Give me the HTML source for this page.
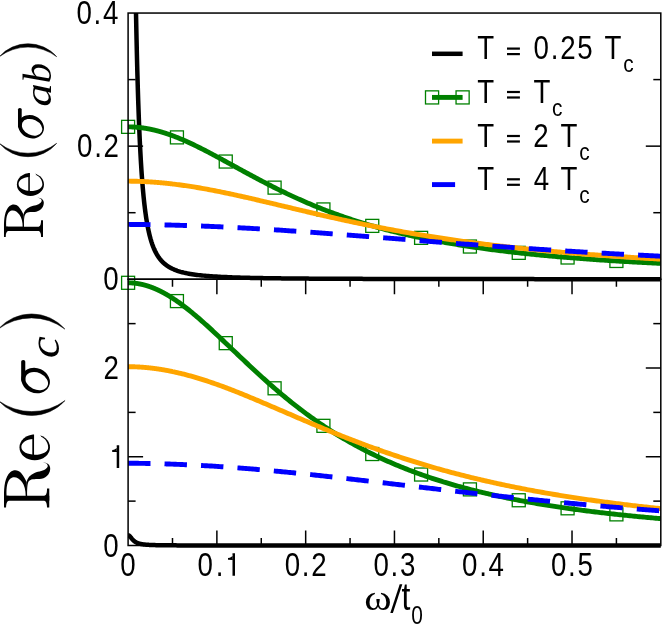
<!DOCTYPE html>
<html><head><meta charset="utf-8"><title>chart</title>
<style>html,body{margin:0;padding:0;background:#fff;overflow:hidden}svg{display:block;position:absolute;left:0;top:0;will-change:transform}</style></head>
<body>
<svg width="664" height="628" viewBox="0 0 664 628">
<defs><clipPath id="ct"><rect x="127.10" y="13.05" width="534.70" height="269.20"/></clipPath>
<clipPath id="cb"><rect x="127.10" y="276.25" width="534.70" height="272.25"/></clipPath></defs>
<rect width="664" height="628" fill="#fff"/>
<line x1="128.10" y1="212.70" x2="135.60" y2="212.70" stroke="#000" stroke-width="1.5"/>
<line x1="660.80" y1="212.70" x2="653.30" y2="212.70" stroke="#000" stroke-width="1.5"/>
<line x1="128.10" y1="146.15" x2="143.10" y2="146.15" stroke="#000" stroke-width="1.5"/>
<line x1="660.80" y1="146.15" x2="645.80" y2="146.15" stroke="#000" stroke-width="1.5"/>
<line x1="128.10" y1="79.60" x2="135.60" y2="79.60" stroke="#000" stroke-width="1.5"/>
<line x1="660.80" y1="79.60" x2="653.30" y2="79.60" stroke="#000" stroke-width="1.5"/>
<line x1="128.10" y1="501.12" x2="135.60" y2="501.12" stroke="#000" stroke-width="1.5"/>
<line x1="660.80" y1="501.12" x2="653.30" y2="501.12" stroke="#000" stroke-width="1.5"/>
<line x1="128.10" y1="456.75" x2="143.10" y2="456.75" stroke="#000" stroke-width="1.5"/>
<line x1="660.80" y1="456.75" x2="645.80" y2="456.75" stroke="#000" stroke-width="1.5"/>
<line x1="128.10" y1="412.38" x2="135.60" y2="412.38" stroke="#000" stroke-width="1.5"/>
<line x1="660.80" y1="412.38" x2="653.30" y2="412.38" stroke="#000" stroke-width="1.5"/>
<line x1="128.10" y1="368.00" x2="143.10" y2="368.00" stroke="#000" stroke-width="1.5"/>
<line x1="660.80" y1="368.00" x2="645.80" y2="368.00" stroke="#000" stroke-width="1.5"/>
<line x1="128.10" y1="323.62" x2="135.60" y2="323.62" stroke="#000" stroke-width="1.5"/>
<line x1="660.80" y1="323.62" x2="653.30" y2="323.62" stroke="#000" stroke-width="1.5"/>
<line x1="172.49" y1="545.50" x2="172.49" y2="538.00" stroke="#000" stroke-width="1.5"/>
<line x1="172.49" y1="279.25" x2="172.49" y2="286.75" stroke="#000" stroke-width="1.5"/>
<line x1="216.88" y1="545.50" x2="216.88" y2="530.50" stroke="#000" stroke-width="1.5"/>
<line x1="216.88" y1="279.25" x2="216.88" y2="294.25" stroke="#000" stroke-width="1.5"/>
<line x1="261.27" y1="545.50" x2="261.27" y2="538.00" stroke="#000" stroke-width="1.5"/>
<line x1="261.27" y1="279.25" x2="261.27" y2="286.75" stroke="#000" stroke-width="1.5"/>
<line x1="305.67" y1="545.50" x2="305.67" y2="530.50" stroke="#000" stroke-width="1.5"/>
<line x1="305.67" y1="279.25" x2="305.67" y2="294.25" stroke="#000" stroke-width="1.5"/>
<line x1="350.06" y1="545.50" x2="350.06" y2="538.00" stroke="#000" stroke-width="1.5"/>
<line x1="350.06" y1="279.25" x2="350.06" y2="286.75" stroke="#000" stroke-width="1.5"/>
<line x1="394.45" y1="545.50" x2="394.45" y2="530.50" stroke="#000" stroke-width="1.5"/>
<line x1="394.45" y1="279.25" x2="394.45" y2="294.25" stroke="#000" stroke-width="1.5"/>
<line x1="438.84" y1="545.50" x2="438.84" y2="538.00" stroke="#000" stroke-width="1.5"/>
<line x1="438.84" y1="279.25" x2="438.84" y2="286.75" stroke="#000" stroke-width="1.5"/>
<line x1="483.23" y1="545.50" x2="483.23" y2="530.50" stroke="#000" stroke-width="1.5"/>
<line x1="483.23" y1="279.25" x2="483.23" y2="294.25" stroke="#000" stroke-width="1.5"/>
<line x1="527.62" y1="545.50" x2="527.62" y2="538.00" stroke="#000" stroke-width="1.5"/>
<line x1="527.62" y1="279.25" x2="527.62" y2="286.75" stroke="#000" stroke-width="1.5"/>
<line x1="572.02" y1="545.50" x2="572.02" y2="530.50" stroke="#000" stroke-width="1.5"/>
<line x1="572.02" y1="279.25" x2="572.02" y2="294.25" stroke="#000" stroke-width="1.5"/>
<line x1="616.41" y1="545.50" x2="616.41" y2="538.00" stroke="#000" stroke-width="1.5"/>
<line x1="616.41" y1="279.25" x2="616.41" y2="286.75" stroke="#000" stroke-width="1.5"/>
<path d="M128.10,-120.05 L128.21,-120.05 L128.32,-120.05 L128.43,-120.05 L128.55,-120.05 L128.66,-120.05 L128.77,-120.05 L128.88,-120.05 L128.99,-120.05 L129.10,-120.05 L129.21,-120.05 L129.32,-120.05 L129.44,-120.05 L129.55,-120.05 L129.66,-120.05 L129.77,-120.05 L129.88,-120.05 L129.99,-120.05 L130.10,-120.05 L130.21,-120.05 L130.33,-120.05 L130.44,-120.05 L130.55,-120.05 L130.66,-120.05 L130.77,-120.05 L130.88,-120.05 L130.99,-120.05 L131.10,-120.05 L131.22,-120.05 L131.33,-120.05 L131.44,-120.05 L131.55,-120.05 L131.66,-120.05 L131.77,-120.05 L131.88,-120.05 L131.99,-120.05 L132.11,-120.05 L132.22,-120.05 L132.33,-120.05 L132.44,-120.05 L132.55,-120.05 L132.66,-120.05 L132.77,-120.05 L132.88,-120.05 L133.00,-120.05 L133.11,-120.05 L133.22,-120.05 L133.33,-120.05 L133.44,-120.05 L133.55,-120.05 L133.66,-120.05 L133.77,-120.05 L133.89,-120.05 L134.00,-120.05 L134.11,-114.57 L134.22,-105.18 L134.33,-96.06 L134.44,-87.21 L134.55,-78.61 L134.66,-70.27 L134.78,-62.17 L134.89,-54.31 L135.00,-46.68 L135.11,-39.27 L135.22,-32.07 L135.33,-25.08 L135.44,-18.30 L135.55,-11.71 L135.67,-5.32 L135.78,0.90 L135.89,6.93 L136.00,12.79 L136.11,18.49 L136.22,24.03 L136.33,29.40 L136.44,34.63 L136.56,39.71 L136.67,44.65 L136.78,49.46 L136.89,54.13 L137.00,58.67 L137.11,63.09 L137.22,67.39 L137.33,71.57 L137.45,75.64 L137.56,79.60 L137.67,83.46 L137.78,87.21 L137.89,90.86 L138.00,94.42 L138.11,97.89 L138.22,101.27 L138.34,104.56 L138.45,107.76 L138.56,110.89 L138.67,113.94 L138.78,116.90 L138.89,119.80 L139.00,122.62 L139.11,125.38 L139.23,128.06 L139.34,130.68 L139.45,133.24 L139.56,135.74 L139.67,138.17 L139.78,140.55 L139.89,142.87 L140.00,145.14 L140.12,147.35 L140.23,149.51 L140.34,151.62 L140.45,153.69 L140.56,155.70 L140.67,157.67 L140.78,159.60 L140.89,161.48 L141.01,163.32 L141.12,165.12 L141.23,166.88 L141.34,168.61 L141.45,170.29 L141.56,171.94 L141.67,173.55 L141.78,175.13 L141.90,176.67 L142.01,178.18 L142.12,179.66 L142.23,181.11 L142.34,182.53 L142.45,183.92 L142.56,185.28 L142.67,186.61 L142.79,187.92 L142.90,189.20 L143.01,190.45 L143.12,191.68 L143.23,192.88 L143.34,194.06 L143.45,195.22 L143.56,196.36 L143.68,197.47 L143.79,198.56 L143.90,199.63 L144.01,200.68 L144.12,201.71 L144.23,202.72 L144.34,203.71 L144.45,204.68 L144.57,205.64 L144.68,206.57 L144.79,207.49 L144.90,208.40 L145.01,209.28 L145.12,210.15 L145.23,211.01 L145.34,211.85 L145.46,212.67 L145.57,213.48 L145.68,214.27 L145.79,215.06 L145.90,215.82 L146.01,216.58 L146.12,217.32 L146.23,218.05 L146.35,218.76 L146.46,219.47 L146.57,220.16 L146.68,220.84 L146.79,221.51 L146.90,222.17 L147.01,222.81 L147.12,223.45 L147.24,224.08 L147.35,224.69 L147.46,225.30 L147.57,225.89 L147.68,226.48 L147.79,227.06 L147.90,227.62 L148.02,228.18 L148.13,228.73 L148.24,229.27 L148.35,229.80 L148.46,230.33 L148.57,230.85 L148.68,231.35 L148.79,231.85 L148.91,232.35 L149.02,232.83 L149.13,233.31 L149.24,233.78 L149.35,234.24 L149.46,234.70 L149.57,235.15 L149.68,235.59 L149.80,236.03 L149.91,236.46 L150.02,236.88 L150.13,237.30 L150.24,237.71 L150.35,238.12 L150.46,238.52 L150.57,238.91 L150.69,239.30 L150.80,239.68 L150.91,240.06 L151.02,240.43 L151.13,240.80 L151.24,241.16 L151.35,241.52 L151.46,241.87 L151.58,242.22 L151.69,242.56 L151.80,242.90 L151.91,243.23 L152.02,243.56 L152.13,243.89 L152.24,244.21 L152.35,244.52 L152.47,244.83 L152.58,245.14 L152.69,245.45 L152.80,245.75 L152.91,246.04 L153.02,246.33 L153.13,246.62 L153.24,246.90 L153.36,247.18 L153.47,247.46 L153.58,247.74 L153.69,248.01 L153.80,248.27 L153.91,248.53 L154.02,248.79 L154.13,249.05 L154.25,249.30 L154.36,249.56 L154.47,249.80 L154.58,250.05 L154.69,250.29 L154.80,250.53 L154.91,250.76 L155.02,250.99 L155.14,251.22 L155.25,251.45 L155.36,251.67 L155.47,251.90 L155.58,252.11 L155.69,252.33 L155.80,252.54 L155.91,252.76 L156.03,252.96 L156.14,253.17 L156.25,253.37 L156.36,253.58 L156.47,253.78 L156.58,253.97 L156.69,254.17 L156.80,254.36 L156.92,254.55 L157.03,254.74 L157.14,254.92 L157.25,255.11 L157.36,255.29 L157.47,255.47 L157.58,255.65 L157.69,255.82 L157.81,256.00 L157.92,256.17 L158.03,256.34 L158.14,256.51 L158.25,256.67 L158.36,256.84 L158.47,257.00 L158.58,257.16 L158.70,257.32 L158.81,257.48 L158.92,257.63 L159.03,257.79 L159.14,257.94 L159.25,258.09 L159.36,258.24 L159.47,258.39 L159.59,258.54 L159.70,258.68 L159.81,258.82 L159.92,258.97 L160.03,259.11 L160.14,259.25 L160.25,259.38 L160.36,259.52 L160.48,259.65 L160.59,259.79 L160.70,259.92 L160.81,260.05 L160.92,260.18 L161.03,260.31 L161.14,260.43 L161.25,260.56 L161.37,260.68 L161.48,260.81 L161.59,260.93 L161.70,261.05 L161.81,261.17 L161.92,261.29 L162.03,261.40 L162.14,261.52 L162.26,261.63 L162.37,261.75 L162.48,261.86 L162.59,261.97 L162.70,262.08 L162.81,262.19 L162.92,262.30 L163.03,262.41 L163.15,262.51 L163.26,262.62 L163.37,262.72 L163.48,262.83 L163.59,262.93 L163.70,263.03 L163.81,263.13 L163.92,263.23 L164.04,263.33 L164.15,263.43 L164.26,263.53 L164.37,263.62 L164.48,263.72 L164.59,263.81 L164.70,263.90 L164.81,264.00 L164.93,264.09 L165.04,264.18 L165.15,264.27 L165.26,264.36 L165.37,264.45 L165.48,264.54 L165.59,264.62 L165.70,264.71 L165.82,264.79 L165.93,264.88 L166.04,264.96 L166.15,265.05 L166.26,265.13 L166.37,265.21 L166.48,265.29 L166.60,265.37 L166.71,265.45 L166.82,265.53 L166.93,265.61 L167.04,265.69 L167.15,265.76 L167.26,265.84 L167.37,265.92 L167.49,265.99 L167.60,266.06 L167.71,266.14 L167.82,266.21 L167.93,266.28 L168.04,266.36 L168.15,266.43 L168.26,266.50 L168.38,266.57 L168.49,266.64 L168.60,266.71 L168.71,266.78 L168.82,266.84 L168.93,266.91 L169.04,266.98 L169.15,267.04 L169.27,267.11 L169.38,267.18 L169.49,267.24 L169.60,267.30 L169.71,267.37 L169.82,267.43 L169.93,267.49 L170.04,267.56 L170.16,267.62 L170.27,267.68 L170.38,267.74 L170.49,267.80 L170.60,267.86 L170.71,267.92 L170.82,267.98 L170.93,268.04 L171.05,268.09 L171.16,268.15 L171.27,268.21 L171.38,268.27 L171.49,268.32 L171.60,268.38 L171.71,268.43 L171.82,268.49 L171.94,268.54 L172.05,268.60 L172.16,268.65 L172.27,268.70 L172.38,268.76 L172.49,268.81 L174.12,269.54 L175.76,270.19 L177.39,270.78 L179.02,271.31 L180.66,271.80 L182.29,272.24 L183.92,272.65 L185.56,273.02 L187.19,273.36 L188.82,273.67 L190.46,273.96 L192.09,274.22 L193.72,274.47 L195.36,274.70 L196.99,274.91 L198.62,275.11 L200.26,275.30 L201.89,275.47 L203.52,275.63 L205.15,275.78 L206.79,275.93 L208.42,276.06 L210.05,276.19 L211.69,276.31 L213.32,276.42 L214.95,276.52 L216.59,276.62 L218.22,276.72 L219.85,276.81 L221.49,276.89 L223.12,276.97 L224.75,277.05 L226.39,277.12 L228.02,277.19 L229.65,277.26 L231.28,277.32 L232.92,277.38 L234.55,277.43 L236.18,277.49 L237.82,277.54 L239.45,277.59 L241.08,277.64 L242.72,277.68 L244.35,277.73 L245.98,277.77 L247.62,277.81 L249.25,277.85 L250.88,277.89 L252.52,277.92 L254.15,277.96 L255.78,277.99 L257.41,278.02 L259.05,278.05 L260.68,278.08 L262.31,278.11 L263.95,278.14 L265.58,278.16 L267.21,278.19 L268.85,278.21 L270.48,278.24 L272.11,278.26 L273.75,278.28 L275.38,278.30 L277.01,278.32 L278.65,278.34 L280.28,278.36 L281.91,278.38 L283.55,278.40 L285.18,278.42 L286.81,278.43 L288.44,278.45 L290.08,278.47 L291.71,278.48 L293.34,278.50 L294.98,278.51 L296.61,278.53 L298.24,278.54 L299.88,278.55 L301.51,278.57 L303.14,278.58 L304.78,278.59 L306.41,278.60 L308.04,278.61 L309.68,278.63 L311.31,278.64 L312.94,278.65 L314.57,278.66 L316.21,278.67 L317.84,278.68 L319.47,278.69 L321.11,278.70 L322.74,278.71 L324.37,278.72 L326.01,278.72 L327.64,278.73 L329.27,278.74 L330.91,278.75 L332.54,278.76 L334.17,278.77 L335.81,278.77 L337.44,278.78 L339.07,278.79 L340.70,278.80 L342.34,278.80 L343.97,278.81 L345.60,278.82 L347.24,278.82 L348.87,278.83 L350.50,278.83 L352.14,278.84 L353.77,278.85 L355.40,278.85 L357.04,278.86 L358.67,278.86 L360.30,278.87 L361.94,278.87 L363.57,278.88 L365.20,278.88 L366.84,278.89 L368.47,278.89 L370.10,278.90 L371.73,278.90 L373.37,278.91 L375.00,278.91 L376.63,278.92 L378.27,278.92 L379.90,278.93 L381.53,278.93 L383.17,278.93 L384.80,278.94 L386.43,278.94 L388.07,278.95 L389.70,278.95 L391.33,278.95 L392.97,278.96 L394.60,278.96 L396.23,278.96 L397.86,278.97 L399.50,278.97 L401.13,278.97 L402.76,278.98 L404.40,278.98 L406.03,278.98 L407.66,278.99 L409.30,278.99 L410.93,278.99 L412.56,279.00 L414.20,279.00 L415.83,279.00 L417.46,279.00 L419.10,279.01 L420.73,279.01 L422.36,279.01 L423.99,279.02 L425.63,279.02 L427.26,279.02 L428.89,279.02 L430.53,279.03 L432.16,279.03 L433.79,279.03 L435.43,279.03 L437.06,279.03 L438.69,279.04 L440.33,279.04 L441.96,279.04 L443.59,279.04 L445.23,279.05 L446.86,279.05 L448.49,279.05 L450.13,279.05 L451.76,279.05 L453.39,279.06 L455.02,279.06 L456.66,279.06 L458.29,279.06 L459.92,279.06 L461.56,279.07 L463.19,279.07 L464.82,279.07 L466.46,279.07 L468.09,279.07 L469.72,279.07 L471.36,279.08 L472.99,279.08 L474.62,279.08 L476.26,279.08 L477.89,279.08 L479.52,279.08 L481.15,279.09 L482.79,279.09 L484.42,279.09 L486.05,279.09 L487.69,279.09 L489.32,279.09 L490.95,279.09 L492.59,279.10 L494.22,279.10 L495.85,279.10 L497.49,279.10 L499.12,279.10 L500.75,279.10 L502.39,279.10 L504.02,279.10 L505.65,279.11 L507.29,279.11 L508.92,279.11 L510.55,279.11 L512.18,279.11 L513.82,279.11 L515.45,279.11 L517.08,279.11 L518.72,279.12 L520.35,279.12 L521.98,279.12 L523.62,279.12 L525.25,279.12 L526.88,279.12 L528.52,279.12 L530.15,279.12 L531.78,279.12 L533.42,279.12 L535.05,279.13 L536.68,279.13 L538.31,279.13 L539.95,279.13 L541.58,279.13 L543.21,279.13 L544.85,279.13 L546.48,279.13 L548.11,279.13 L549.75,279.13 L551.38,279.14 L553.01,279.14 L554.65,279.14 L556.28,279.14 L557.91,279.14 L559.55,279.14 L561.18,279.14 L562.81,279.14 L564.44,279.14 L566.08,279.14 L567.71,279.14 L569.34,279.14 L570.98,279.15 L572.61,279.15 L574.24,279.15 L575.88,279.15 L577.51,279.15 L579.14,279.15 L580.78,279.15 L582.41,279.15 L584.04,279.15 L585.68,279.15 L587.31,279.15 L588.94,279.15 L590.58,279.15 L592.21,279.15 L593.84,279.16 L595.47,279.16 L597.11,279.16 L598.74,279.16 L600.37,279.16 L602.01,279.16 L603.64,279.16 L605.27,279.16 L606.91,279.16 L608.54,279.16 L610.17,279.16 L611.81,279.16 L613.44,279.16 L615.07,279.16 L616.71,279.16 L618.34,279.16 L619.97,279.17 L621.60,279.17 L623.24,279.17 L624.87,279.17 L626.50,279.17 L628.14,279.17 L629.77,279.17 L631.40,279.17 L633.04,279.17 L634.67,279.17 L636.30,279.17 L637.94,279.17 L639.57,279.17 L641.20,279.17 L642.84,279.17 L644.47,279.17 L646.10,279.17 L647.73,279.17 L649.37,279.17 L651.00,279.17 L652.63,279.18 L654.27,279.18 L655.90,279.18 L657.53,279.18 L659.17,279.18 L660.80,279.18" fill="none" stroke="#000000" stroke-width="4.5" stroke-linejoin="round" clip-path="url(#ct)"/>
<rect x="121.60" y="120.35" width="13.0" height="13.0" fill="none" stroke="#008000" stroke-width="1.3"/>
<rect x="170.43" y="130.89" width="13.0" height="13.0" fill="none" stroke="#008000" stroke-width="1.3"/>
<rect x="219.26" y="155.04" width="13.0" height="13.0" fill="none" stroke="#008000" stroke-width="1.3"/>
<rect x="268.09" y="181.13" width="13.0" height="13.0" fill="none" stroke="#008000" stroke-width="1.3"/>
<rect x="316.92" y="202.93" width="13.0" height="13.0" fill="none" stroke="#008000" stroke-width="1.3"/>
<rect x="365.75" y="219.38" width="13.0" height="13.0" fill="none" stroke="#008000" stroke-width="1.3"/>
<rect x="414.59" y="231.35" width="13.0" height="13.0" fill="none" stroke="#008000" stroke-width="1.3"/>
<rect x="463.42" y="240.03" width="13.0" height="13.0" fill="none" stroke="#008000" stroke-width="1.3"/>
<rect x="512.25" y="246.35" width="13.0" height="13.0" fill="none" stroke="#008000" stroke-width="1.3"/>
<rect x="561.08" y="251.00" width="13.0" height="13.0" fill="none" stroke="#008000" stroke-width="1.3"/>
<rect x="609.91" y="254.47" width="13.0" height="13.0" fill="none" stroke="#008000" stroke-width="1.3"/>
<path d="M128.10,126.85 L128.21,126.85 L128.32,126.85 L128.43,126.85 L128.55,126.85 L128.66,126.85 L128.77,126.86 L128.88,126.86 L128.99,126.86 L129.10,126.86 L129.21,126.86 L129.32,126.86 L129.44,126.87 L129.55,126.87 L129.66,126.87 L129.77,126.87 L129.88,126.87 L129.99,126.88 L130.10,126.88 L130.21,126.88 L130.33,126.89 L130.44,126.89 L130.55,126.89 L130.66,126.89 L130.77,126.90 L130.88,126.90 L130.99,126.90 L131.10,126.91 L131.22,126.91 L131.33,126.92 L131.44,126.92 L131.55,126.92 L131.66,126.93 L131.77,126.93 L131.88,126.94 L131.99,126.94 L132.11,126.95 L132.22,126.95 L132.33,126.96 L132.44,126.96 L132.55,126.97 L132.66,126.97 L132.77,126.98 L132.88,126.98 L133.00,126.99 L133.11,126.99 L133.22,127.00 L133.33,127.00 L133.44,127.01 L133.55,127.02 L133.66,127.02 L133.77,127.03 L133.89,127.04 L134.00,127.04 L134.11,127.05 L134.22,127.06 L134.33,127.06 L134.44,127.07 L134.55,127.08 L134.66,127.08 L134.78,127.09 L134.89,127.10 L135.00,127.11 L135.11,127.11 L135.22,127.12 L135.33,127.13 L135.44,127.14 L135.55,127.15 L135.67,127.15 L135.78,127.16 L135.89,127.17 L136.00,127.18 L136.11,127.19 L136.22,127.20 L136.33,127.21 L136.44,127.22 L136.56,127.23 L136.67,127.23 L136.78,127.24 L136.89,127.25 L137.00,127.26 L137.11,127.27 L137.22,127.28 L137.33,127.29 L137.45,127.30 L137.56,127.31 L137.67,127.32 L137.78,127.33 L137.89,127.34 L138.00,127.35 L138.11,127.37 L138.22,127.38 L138.34,127.39 L138.45,127.40 L138.56,127.41 L138.67,127.42 L138.78,127.43 L138.89,127.44 L139.00,127.46 L139.11,127.47 L139.23,127.48 L139.34,127.49 L139.45,127.50 L139.56,127.52 L139.67,127.53 L139.78,127.54 L139.89,127.55 L140.00,127.57 L140.12,127.58 L140.23,127.59 L140.34,127.60 L140.45,127.62 L140.56,127.63 L140.67,127.64 L140.78,127.66 L140.89,127.67 L141.01,127.69 L141.12,127.70 L141.23,127.71 L141.34,127.73 L141.45,127.74 L141.56,127.76 L141.67,127.77 L141.78,127.78 L141.90,127.80 L142.01,127.81 L142.12,127.83 L142.23,127.84 L142.34,127.86 L142.45,127.87 L142.56,127.89 L142.67,127.90 L142.79,127.92 L142.90,127.93 L143.01,127.95 L143.12,127.97 L143.23,127.98 L143.34,128.00 L143.45,128.01 L143.56,128.03 L143.68,128.05 L143.79,128.06 L143.90,128.08 L144.01,128.10 L144.12,128.11 L144.23,128.13 L144.34,128.15 L144.45,128.16 L144.57,128.18 L144.68,128.20 L144.79,128.22 L144.90,128.23 L145.01,128.25 L145.12,128.27 L145.23,128.29 L145.34,128.30 L145.46,128.32 L145.57,128.34 L145.68,128.36 L145.79,128.38 L145.90,128.40 L146.01,128.41 L146.12,128.43 L146.23,128.45 L146.35,128.47 L146.46,128.49 L146.57,128.51 L146.68,128.53 L146.79,128.55 L146.90,128.57 L147.01,128.59 L147.12,128.61 L147.24,128.63 L147.35,128.65 L147.46,128.67 L147.57,128.69 L147.68,128.71 L147.79,128.73 L147.90,128.75 L148.02,128.77 L148.13,128.79 L148.24,128.81 L148.35,128.83 L148.46,128.85 L148.57,128.87 L148.68,128.89 L148.79,128.91 L148.91,128.94 L149.02,128.96 L149.13,128.98 L149.24,129.00 L149.35,129.02 L149.46,129.04 L149.57,129.07 L149.68,129.09 L149.80,129.11 L149.91,129.13 L150.02,129.16 L150.13,129.18 L150.24,129.20 L150.35,129.22 L150.46,129.25 L150.57,129.27 L150.69,129.29 L150.80,129.32 L150.91,129.34 L151.02,129.36 L151.13,129.39 L151.24,129.41 L151.35,129.43 L151.46,129.46 L151.58,129.48 L151.69,129.50 L151.80,129.53 L151.91,129.55 L152.02,129.58 L152.13,129.60 L152.24,129.63 L152.35,129.65 L152.47,129.68 L152.58,129.70 L152.69,129.73 L152.80,129.75 L152.91,129.78 L153.02,129.80 L153.13,129.83 L153.24,129.85 L153.36,129.88 L153.47,129.90 L153.58,129.93 L153.69,129.95 L153.80,129.98 L153.91,130.01 L154.02,130.03 L154.13,130.06 L154.25,130.08 L154.36,130.11 L154.47,130.14 L154.58,130.16 L154.69,130.19 L154.80,130.22 L154.91,130.25 L155.02,130.27 L155.14,130.30 L155.25,130.33 L155.36,130.35 L155.47,130.38 L155.58,130.41 L155.69,130.44 L155.80,130.46 L155.91,130.49 L156.03,130.52 L156.14,130.55 L156.25,130.58 L156.36,130.60 L156.47,130.63 L156.58,130.66 L156.69,130.69 L156.80,130.72 L156.92,130.75 L157.03,130.78 L157.14,130.80 L157.25,130.83 L157.36,130.86 L157.47,130.89 L157.58,130.92 L157.69,130.95 L157.81,130.98 L157.92,131.01 L158.03,131.04 L158.14,131.07 L158.25,131.10 L158.36,131.13 L158.47,131.16 L158.58,131.19 L158.70,131.22 L158.81,131.25 L158.92,131.28 L159.03,131.31 L159.14,131.34 L159.25,131.37 L159.36,131.40 L159.47,131.43 L159.59,131.47 L159.70,131.50 L159.81,131.53 L159.92,131.56 L160.03,131.59 L160.14,131.62 L160.25,131.65 L160.36,131.69 L160.48,131.72 L160.59,131.75 L160.70,131.78 L160.81,131.81 L160.92,131.85 L161.03,131.88 L161.14,131.91 L161.25,131.94 L161.37,131.98 L161.48,132.01 L161.59,132.04 L161.70,132.07 L161.81,132.11 L161.92,132.14 L162.03,132.17 L162.14,132.21 L162.26,132.24 L162.37,132.27 L162.48,132.31 L162.59,132.34 L162.70,132.37 L162.81,132.41 L162.92,132.44 L163.03,132.48 L163.15,132.51 L163.26,132.54 L163.37,132.58 L163.48,132.61 L163.59,132.65 L163.70,132.68 L163.81,132.72 L163.92,132.75 L164.04,132.79 L164.15,132.82 L164.26,132.85 L164.37,132.89 L164.48,132.93 L164.59,132.96 L164.70,133.00 L164.81,133.03 L164.93,133.07 L165.04,133.10 L165.15,133.14 L165.26,133.17 L165.37,133.21 L165.48,133.25 L165.59,133.28 L165.70,133.32 L165.82,133.35 L165.93,133.39 L166.04,133.43 L166.15,133.46 L166.26,133.50 L166.37,133.54 L166.48,133.57 L166.60,133.61 L166.71,133.65 L166.82,133.68 L166.93,133.72 L167.04,133.76 L167.15,133.79 L167.26,133.83 L167.37,133.87 L167.49,133.91 L167.60,133.94 L167.71,133.98 L167.82,134.02 L167.93,134.06 L168.04,134.10 L168.15,134.13 L168.26,134.17 L168.38,134.21 L168.49,134.25 L168.60,134.29 L168.71,134.32 L168.82,134.36 L168.93,134.40 L169.04,134.44 L169.15,134.48 L169.27,134.52 L169.38,134.56 L169.49,134.60 L169.60,134.64 L169.71,134.67 L169.82,134.71 L169.93,134.75 L170.04,134.79 L170.16,134.83 L170.27,134.87 L170.38,134.91 L170.49,134.95 L170.60,134.99 L170.71,135.03 L170.82,135.07 L170.93,135.11 L171.05,135.15 L171.16,135.19 L171.27,135.23 L171.38,135.27 L171.49,135.31 L171.60,135.35 L171.71,135.39 L171.82,135.43 L171.94,135.47 L172.05,135.52 L172.16,135.56 L172.27,135.60 L172.38,135.64 L172.49,135.68 L174.12,136.29 L175.76,136.92 L177.39,137.57 L179.02,138.23 L180.66,138.91 L182.29,139.60 L183.92,140.30 L185.56,141.02 L187.19,141.75 L188.82,142.50 L190.46,143.25 L192.09,144.02 L193.72,144.80 L195.36,145.59 L196.99,146.38 L198.62,147.19 L200.26,148.01 L201.89,148.83 L203.52,149.67 L205.15,150.51 L206.79,151.35 L208.42,152.20 L210.05,153.06 L211.69,153.93 L213.32,154.80 L214.95,155.67 L216.59,156.55 L218.22,157.43 L219.85,158.32 L221.49,159.20 L223.12,160.09 L224.75,160.99 L226.39,161.88 L228.02,162.78 L229.65,163.67 L231.28,164.57 L232.92,165.47 L234.55,166.37 L236.18,167.26 L237.82,168.16 L239.45,169.05 L241.08,169.95 L242.72,170.84 L244.35,171.73 L245.98,172.62 L247.62,173.51 L249.25,174.39 L250.88,175.27 L252.52,176.15 L254.15,177.02 L255.78,177.90 L257.41,178.76 L259.05,179.63 L260.68,180.49 L262.31,181.34 L263.95,182.19 L265.58,183.04 L267.21,183.88 L268.85,184.72 L270.48,185.55 L272.11,186.38 L273.75,187.20 L275.38,188.02 L277.01,188.83 L278.65,189.64 L280.28,190.44 L281.91,191.23 L283.55,192.02 L285.18,192.81 L286.81,193.59 L288.44,194.36 L290.08,195.13 L291.71,195.89 L293.34,196.64 L294.98,197.39 L296.61,198.13 L298.24,198.87 L299.88,199.60 L301.51,200.32 L303.14,201.04 L304.78,201.75 L306.41,202.45 L308.04,203.15 L309.68,203.85 L311.31,204.53 L312.94,205.21 L314.57,205.89 L316.21,206.55 L317.84,207.22 L319.47,207.87 L321.11,208.52 L322.74,209.16 L324.37,209.80 L326.01,210.43 L327.64,211.05 L329.27,211.67 L330.91,212.29 L332.54,212.89 L334.17,213.49 L335.81,214.09 L337.44,214.67 L339.07,215.26 L340.70,215.83 L342.34,216.40 L343.97,216.97 L345.60,217.53 L347.24,218.08 L348.87,218.63 L350.50,219.17 L352.14,219.71 L353.77,220.24 L355.40,220.77 L357.04,221.29 L358.67,221.80 L360.30,222.31 L361.94,222.81 L363.57,223.31 L365.20,223.80 L366.84,224.29 L368.47,224.78 L370.10,225.25 L371.73,225.73 L373.37,226.19 L375.00,226.66 L376.63,227.11 L378.27,227.57 L379.90,228.02 L381.53,228.46 L383.17,228.90 L384.80,229.33 L386.43,229.76 L388.07,230.18 L389.70,230.60 L391.33,231.02 L392.97,231.43 L394.60,231.84 L396.23,232.24 L397.86,232.64 L399.50,233.03 L401.13,233.42 L402.76,233.81 L404.40,234.19 L406.03,234.56 L407.66,234.94 L409.30,235.31 L410.93,235.67 L412.56,236.03 L414.20,236.39 L415.83,236.74 L417.46,237.09 L419.10,237.44 L420.73,237.78 L422.36,238.12 L423.99,238.45 L425.63,238.78 L427.26,239.11 L428.89,239.43 L430.53,239.75 L432.16,240.07 L433.79,240.38 L435.43,240.70 L437.06,241.00 L438.69,241.31 L440.33,241.61 L441.96,241.90 L443.59,242.20 L445.23,242.49 L446.86,242.78 L448.49,243.06 L450.13,243.34 L451.76,243.62 L453.39,243.90 L455.02,244.17 L456.66,244.44 L458.29,244.71 L459.92,244.97 L461.56,245.23 L463.19,245.49 L464.82,245.75 L466.46,246.00 L468.09,246.25 L469.72,246.50 L471.36,246.74 L472.99,246.98 L474.62,247.23 L476.26,247.46 L477.89,247.70 L479.52,247.93 L481.15,248.16 L482.79,248.39 L484.42,248.61 L486.05,248.84 L487.69,249.06 L489.32,249.28 L490.95,249.49 L492.59,249.71 L494.22,249.92 L495.85,250.13 L497.49,250.33 L499.12,250.54 L500.75,250.74 L502.39,250.94 L504.02,251.14 L505.65,251.34 L507.29,251.53 L508.92,251.73 L510.55,251.92 L512.18,252.11 L513.82,252.29 L515.45,252.48 L517.08,252.66 L518.72,252.84 L520.35,253.02 L521.98,253.20 L523.62,253.38 L525.25,253.55 L526.88,253.72 L528.52,253.89 L530.15,254.06 L531.78,254.23 L533.42,254.39 L535.05,254.56 L536.68,254.72 L538.31,254.88 L539.95,255.04 L541.58,255.20 L543.21,255.35 L544.85,255.51 L546.48,255.66 L548.11,255.81 L549.75,255.96 L551.38,256.11 L553.01,256.26 L554.65,256.40 L556.28,256.54 L557.91,256.69 L559.55,256.83 L561.18,256.97 L562.81,257.11 L564.44,257.24 L566.08,257.38 L567.71,257.51 L569.34,257.65 L570.98,257.78 L572.61,257.91 L574.24,258.04 L575.88,258.16 L577.51,258.29 L579.14,258.42 L580.78,258.54 L582.41,258.66 L584.04,258.78 L585.68,258.91 L587.31,259.02 L588.94,259.14 L590.58,259.26 L592.21,259.38 L593.84,259.49 L595.47,259.61 L597.11,259.72 L598.74,259.83 L600.37,259.94 L602.01,260.05 L603.64,260.16 L605.27,260.27 L606.91,260.37 L608.54,260.48 L610.17,260.58 L611.81,260.69 L613.44,260.79 L615.07,260.89 L616.71,260.99 L618.34,261.09 L619.97,261.19 L621.60,261.29 L623.24,261.38 L624.87,261.48 L626.50,261.58 L628.14,261.67 L629.77,261.76 L631.40,261.86 L633.04,261.95 L634.67,262.04 L636.30,262.13 L637.94,262.22 L639.57,262.31 L641.20,262.40 L642.84,262.48 L644.47,262.57 L646.10,262.65 L647.73,262.74 L649.37,262.82 L651.00,262.91 L652.63,262.99 L654.27,263.07 L655.90,263.15 L657.53,263.23 L659.17,263.31 L660.80,263.39" fill="none" stroke="#008000" stroke-width="4.9" stroke-linejoin="round" clip-path="url(#ct)"/>
<path d="M128.10,181.16 L128.21,181.16 L128.32,181.16 L128.43,181.16 L128.55,181.16 L128.66,181.16 L128.77,181.16 L128.88,181.16 L128.99,181.16 L129.10,181.16 L129.21,181.16 L129.32,181.16 L129.44,181.16 L129.55,181.17 L129.66,181.17 L129.77,181.17 L129.88,181.17 L129.99,181.17 L130.10,181.17 L130.21,181.17 L130.33,181.17 L130.44,181.18 L130.55,181.18 L130.66,181.18 L130.77,181.18 L130.88,181.18 L130.99,181.18 L131.10,181.18 L131.22,181.18 L131.33,181.19 L131.44,181.19 L131.55,181.19 L131.66,181.19 L131.77,181.19 L131.88,181.19 L131.99,181.20 L132.11,181.20 L132.22,181.20 L132.33,181.20 L132.44,181.20 L132.55,181.21 L132.66,181.21 L132.77,181.21 L132.88,181.21 L133.00,181.21 L133.11,181.22 L133.22,181.22 L133.33,181.22 L133.44,181.22 L133.55,181.22 L133.66,181.23 L133.77,181.23 L133.89,181.23 L134.00,181.23 L134.11,181.24 L134.22,181.24 L134.33,181.24 L134.44,181.24 L134.55,181.25 L134.66,181.25 L134.78,181.25 L134.89,181.25 L135.00,181.26 L135.11,181.26 L135.22,181.26 L135.33,181.26 L135.44,181.27 L135.55,181.27 L135.67,181.27 L135.78,181.27 L135.89,181.28 L136.00,181.28 L136.11,181.28 L136.22,181.29 L136.33,181.29 L136.44,181.29 L136.56,181.30 L136.67,181.30 L136.78,181.30 L136.89,181.31 L137.00,181.31 L137.11,181.31 L137.22,181.31 L137.33,181.32 L137.45,181.32 L137.56,181.32 L137.67,181.33 L137.78,181.33 L137.89,181.34 L138.00,181.34 L138.11,181.34 L138.22,181.35 L138.34,181.35 L138.45,181.35 L138.56,181.36 L138.67,181.36 L138.78,181.36 L138.89,181.37 L139.00,181.37 L139.11,181.38 L139.23,181.38 L139.34,181.38 L139.45,181.39 L139.56,181.39 L139.67,181.40 L139.78,181.40 L139.89,181.40 L140.00,181.41 L140.12,181.41 L140.23,181.42 L140.34,181.42 L140.45,181.42 L140.56,181.43 L140.67,181.43 L140.78,181.44 L140.89,181.44 L141.01,181.45 L141.12,181.45 L141.23,181.45 L141.34,181.46 L141.45,181.46 L141.56,181.47 L141.67,181.47 L141.78,181.48 L141.90,181.48 L142.01,181.49 L142.12,181.49 L142.23,181.50 L142.34,181.50 L142.45,181.51 L142.56,181.51 L142.67,181.52 L142.79,181.52 L142.90,181.53 L143.01,181.53 L143.12,181.54 L143.23,181.54 L143.34,181.55 L143.45,181.55 L143.56,181.56 L143.68,181.56 L143.79,181.57 L143.90,181.57 L144.01,181.58 L144.12,181.58 L144.23,181.59 L144.34,181.59 L144.45,181.60 L144.57,181.60 L144.68,181.61 L144.79,181.61 L144.90,181.62 L145.01,181.63 L145.12,181.63 L145.23,181.64 L145.34,181.64 L145.46,181.65 L145.57,181.65 L145.68,181.66 L145.79,181.67 L145.90,181.67 L146.01,181.68 L146.12,181.68 L146.23,181.69 L146.35,181.70 L146.46,181.70 L146.57,181.71 L146.68,181.71 L146.79,181.72 L146.90,181.73 L147.01,181.73 L147.12,181.74 L147.24,181.74 L147.35,181.75 L147.46,181.76 L147.57,181.76 L147.68,181.77 L147.79,181.78 L147.90,181.78 L148.02,181.79 L148.13,181.79 L148.24,181.80 L148.35,181.81 L148.46,181.81 L148.57,181.82 L148.68,181.83 L148.79,181.83 L148.91,181.84 L149.02,181.85 L149.13,181.85 L149.24,181.86 L149.35,181.87 L149.46,181.88 L149.57,181.88 L149.68,181.89 L149.80,181.90 L149.91,181.90 L150.02,181.91 L150.13,181.92 L150.24,181.92 L150.35,181.93 L150.46,181.94 L150.57,181.95 L150.69,181.95 L150.80,181.96 L150.91,181.97 L151.02,181.97 L151.13,181.98 L151.24,181.99 L151.35,182.00 L151.46,182.00 L151.58,182.01 L151.69,182.02 L151.80,182.03 L151.91,182.03 L152.02,182.04 L152.13,182.05 L152.24,182.06 L152.35,182.06 L152.47,182.07 L152.58,182.08 L152.69,182.09 L152.80,182.10 L152.91,182.10 L153.02,182.11 L153.13,182.12 L153.24,182.13 L153.36,182.13 L153.47,182.14 L153.58,182.15 L153.69,182.16 L153.80,182.17 L153.91,182.18 L154.02,182.18 L154.13,182.19 L154.25,182.20 L154.36,182.21 L154.47,182.22 L154.58,182.22 L154.69,182.23 L154.80,182.24 L154.91,182.25 L155.02,182.26 L155.14,182.27 L155.25,182.27 L155.36,182.28 L155.47,182.29 L155.58,182.30 L155.69,182.31 L155.80,182.32 L155.91,182.33 L156.03,182.34 L156.14,182.34 L156.25,182.35 L156.36,182.36 L156.47,182.37 L156.58,182.38 L156.69,182.39 L156.80,182.40 L156.92,182.41 L157.03,182.41 L157.14,182.42 L157.25,182.43 L157.36,182.44 L157.47,182.45 L157.58,182.46 L157.69,182.47 L157.81,182.48 L157.92,182.49 L158.03,182.50 L158.14,182.51 L158.25,182.52 L158.36,182.53 L158.47,182.53 L158.58,182.54 L158.70,182.55 L158.81,182.56 L158.92,182.57 L159.03,182.58 L159.14,182.59 L159.25,182.60 L159.36,182.61 L159.47,182.62 L159.59,182.63 L159.70,182.64 L159.81,182.65 L159.92,182.66 L160.03,182.67 L160.14,182.68 L160.25,182.69 L160.36,182.70 L160.48,182.71 L160.59,182.72 L160.70,182.73 L160.81,182.74 L160.92,182.75 L161.03,182.76 L161.14,182.77 L161.25,182.78 L161.37,182.79 L161.48,182.80 L161.59,182.81 L161.70,182.82 L161.81,182.83 L161.92,182.84 L162.03,182.85 L162.14,182.86 L162.26,182.87 L162.37,182.88 L162.48,182.89 L162.59,182.90 L162.70,182.91 L162.81,182.92 L162.92,182.93 L163.03,182.95 L163.15,182.96 L163.26,182.97 L163.37,182.98 L163.48,182.99 L163.59,183.00 L163.70,183.01 L163.81,183.02 L163.92,183.03 L164.04,183.04 L164.15,183.05 L164.26,183.06 L164.37,183.08 L164.48,183.09 L164.59,183.10 L164.70,183.11 L164.81,183.12 L164.93,183.13 L165.04,183.14 L165.15,183.15 L165.26,183.16 L165.37,183.18 L165.48,183.19 L165.59,183.20 L165.70,183.21 L165.82,183.22 L165.93,183.23 L166.04,183.24 L166.15,183.25 L166.26,183.27 L166.37,183.28 L166.48,183.29 L166.60,183.30 L166.71,183.31 L166.82,183.32 L166.93,183.34 L167.04,183.35 L167.15,183.36 L167.26,183.37 L167.37,183.38 L167.49,183.39 L167.60,183.41 L167.71,183.42 L167.82,183.43 L167.93,183.44 L168.04,183.45 L168.15,183.47 L168.26,183.48 L168.38,183.49 L168.49,183.50 L168.60,183.51 L168.71,183.53 L168.82,183.54 L168.93,183.55 L169.04,183.56 L169.15,183.58 L169.27,183.59 L169.38,183.60 L169.49,183.61 L169.60,183.62 L169.71,183.64 L169.82,183.65 L169.93,183.66 L170.04,183.67 L170.16,183.69 L170.27,183.70 L170.38,183.71 L170.49,183.72 L170.60,183.74 L170.71,183.75 L170.82,183.76 L170.93,183.77 L171.05,183.79 L171.16,183.80 L171.27,183.81 L171.38,183.83 L171.49,183.84 L171.60,183.85 L171.71,183.86 L171.82,183.88 L171.94,183.89 L172.05,183.90 L172.16,183.92 L172.27,183.93 L172.38,183.94 L172.49,183.96 L174.12,184.15 L175.76,184.35 L177.39,184.56 L179.02,184.77 L180.66,184.99 L182.29,185.22 L183.92,185.45 L185.56,185.68 L187.19,185.92 L188.82,186.17 L190.46,186.42 L192.09,186.67 L193.72,186.94 L195.36,187.20 L196.99,187.47 L198.62,187.75 L200.26,188.03 L201.89,188.32 L203.52,188.60 L205.15,188.90 L206.79,189.20 L208.42,189.50 L210.05,189.80 L211.69,190.11 L213.32,190.43 L214.95,190.75 L216.59,191.07 L218.22,191.39 L219.85,191.72 L221.49,192.05 L223.12,192.39 L224.75,192.73 L226.39,193.07 L228.02,193.41 L229.65,193.76 L231.28,194.11 L232.92,194.46 L234.55,194.81 L236.18,195.17 L237.82,195.53 L239.45,195.89 L241.08,196.26 L242.72,196.62 L244.35,196.99 L245.98,197.36 L247.62,197.73 L249.25,198.11 L250.88,198.48 L252.52,198.86 L254.15,199.23 L255.78,199.61 L257.41,199.99 L259.05,200.37 L260.68,200.76 L262.31,201.14 L263.95,201.53 L265.58,201.91 L267.21,202.30 L268.85,202.68 L270.48,203.07 L272.11,203.46 L273.75,203.85 L275.38,204.24 L277.01,204.62 L278.65,205.01 L280.28,205.40 L281.91,205.79 L283.55,206.18 L285.18,206.57 L286.81,206.96 L288.44,207.35 L290.08,207.74 L291.71,208.13 L293.34,208.52 L294.98,208.91 L296.61,209.29 L298.24,209.68 L299.88,210.07 L301.51,210.45 L303.14,210.84 L304.78,211.22 L306.41,211.61 L308.04,211.99 L309.68,212.37 L311.31,212.75 L312.94,213.13 L314.57,213.51 L316.21,213.89 L317.84,214.27 L319.47,214.64 L321.11,215.02 L322.74,215.39 L324.37,215.77 L326.01,216.14 L327.64,216.51 L329.27,216.88 L330.91,217.24 L332.54,217.61 L334.17,217.97 L335.81,218.34 L337.44,218.70 L339.07,219.06 L340.70,219.42 L342.34,219.78 L343.97,220.13 L345.60,220.49 L347.24,220.84 L348.87,221.19 L350.50,221.54 L352.14,221.89 L353.77,222.23 L355.40,222.58 L357.04,222.92 L358.67,223.26 L360.30,223.60 L361.94,223.94 L363.57,224.28 L365.20,224.61 L366.84,224.94 L368.47,225.27 L370.10,225.60 L371.73,225.93 L373.37,226.26 L375.00,226.58 L376.63,226.90 L378.27,227.22 L379.90,227.54 L381.53,227.86 L383.17,228.17 L384.80,228.48 L386.43,228.79 L388.07,229.10 L389.70,229.41 L391.33,229.71 L392.97,230.02 L394.60,230.32 L396.23,230.62 L397.86,230.92 L399.50,231.21 L401.13,231.51 L402.76,231.80 L404.40,232.09 L406.03,232.38 L407.66,232.66 L409.30,232.95 L410.93,233.23 L412.56,233.51 L414.20,233.79 L415.83,234.07 L417.46,234.34 L419.10,234.62 L420.73,234.89 L422.36,235.16 L423.99,235.43 L425.63,235.69 L427.26,235.96 L428.89,236.22 L430.53,236.48 L432.16,236.74 L433.79,237.00 L435.43,237.25 L437.06,237.51 L438.69,237.76 L440.33,238.01 L441.96,238.26 L443.59,238.50 L445.23,238.75 L446.86,238.99 L448.49,239.23 L450.13,239.47 L451.76,239.71 L453.39,239.94 L455.02,240.18 L456.66,240.41 L458.29,240.64 L459.92,240.87 L461.56,241.10 L463.19,241.32 L464.82,241.55 L466.46,241.77 L468.09,241.99 L469.72,242.21 L471.36,242.43 L472.99,242.65 L474.62,242.86 L476.26,243.07 L477.89,243.28 L479.52,243.49 L481.15,243.70 L482.79,243.91 L484.42,244.11 L486.05,244.32 L487.69,244.52 L489.32,244.72 L490.95,244.92 L492.59,245.12 L494.22,245.31 L495.85,245.51 L497.49,245.70 L499.12,245.89 L500.75,246.08 L502.39,246.27 L504.02,246.46 L505.65,246.64 L507.29,246.83 L508.92,247.01 L510.55,247.19 L512.18,247.37 L513.82,247.55 L515.45,247.73 L517.08,247.90 L518.72,248.08 L520.35,248.25 L521.98,248.42 L523.62,248.59 L525.25,248.76 L526.88,248.93 L528.52,249.10 L530.15,249.26 L531.78,249.43 L533.42,249.59 L535.05,249.75 L536.68,249.91 L538.31,250.07 L539.95,250.23 L541.58,250.39 L543.21,250.54 L544.85,250.70 L546.48,250.85 L548.11,251.00 L549.75,251.15 L551.38,251.30 L553.01,251.45 L554.65,251.60 L556.28,251.75 L557.91,251.89 L559.55,252.03 L561.18,252.18 L562.81,252.32 L564.44,252.46 L566.08,252.60 L567.71,252.74 L569.34,252.88 L570.98,253.01 L572.61,253.15 L574.24,253.28 L575.88,253.41 L577.51,253.55 L579.14,253.68 L580.78,253.81 L582.41,253.94 L584.04,254.07 L585.68,254.19 L587.31,254.32 L588.94,254.44 L590.58,254.57 L592.21,254.69 L593.84,254.81 L595.47,254.93 L597.11,255.06 L598.74,255.18 L600.37,255.29 L602.01,255.41 L603.64,255.53 L605.27,255.64 L606.91,255.76 L608.54,255.87 L610.17,255.99 L611.81,256.10 L613.44,256.21 L615.07,256.32 L616.71,256.43 L618.34,256.54 L619.97,256.65 L621.60,256.76 L623.24,256.86 L624.87,256.97 L626.50,257.07 L628.14,257.18 L629.77,257.28 L631.40,257.38 L633.04,257.49 L634.67,257.59 L636.30,257.69 L637.94,257.79 L639.57,257.89 L641.20,257.98 L642.84,258.08 L644.47,258.18 L646.10,258.27 L647.73,258.37 L649.37,258.46 L651.00,258.56 L652.63,258.65 L654.27,258.74 L655.90,258.84 L657.53,258.93 L659.17,259.02 L660.80,259.11" fill="none" stroke="#ffa500" stroke-width="4.9" stroke-linejoin="round" clip-path="url(#ct)"/>
<path d="M128.10,224.41 L128.21,224.41 L128.32,224.41 L128.43,224.41 L128.55,224.42 L128.66,224.42 L128.77,224.42 L128.88,224.42 L128.99,224.42 L129.10,224.42 L129.21,224.42 L129.32,224.42 L129.44,224.42 L129.55,224.42 L129.66,224.42 L129.77,224.42 L129.88,224.42 L129.99,224.42 L130.10,224.42 L130.21,224.43 L130.33,224.43 L130.44,224.43 L130.55,224.43 L130.66,224.43 L130.77,224.43 L130.88,224.43 L130.99,224.43 L131.10,224.43 L131.22,224.43 L131.33,224.43 L131.44,224.43 L131.55,224.43 L131.66,224.43 L131.77,224.44 L131.88,224.44 L131.99,224.44 L132.11,224.44 L132.22,224.44 L132.33,224.44 L132.44,224.44 L132.55,224.44 L132.66,224.44 L132.77,224.44 L132.88,224.44 L133.00,224.44 L133.11,224.45 L133.22,224.45 L133.33,224.45 L133.44,224.45 L133.55,224.45 L133.66,224.45 L133.77,224.45 L133.89,224.45 L134.00,224.45 L134.11,224.45 L134.22,224.45 L134.33,224.45 L134.44,224.46 L134.55,224.46 L134.66,224.46 L134.78,224.46 L134.89,224.46 L135.00,224.46 L135.11,224.46 L135.22,224.46 L135.33,224.46 L135.44,224.46 L135.55,224.47 L135.67,224.47 L135.78,224.47 L135.89,224.47 L136.00,224.47 L136.11,224.47 L136.22,224.47 L136.33,224.47 L136.44,224.47 L136.56,224.47 L136.67,224.48 L136.78,224.48 L136.89,224.48 L137.00,224.48 L137.11,224.48 L137.22,224.48 L137.33,224.48 L137.45,224.48 L137.56,224.48 L137.67,224.48 L137.78,224.49 L137.89,224.49 L138.00,224.49 L138.11,224.49 L138.22,224.49 L138.34,224.49 L138.45,224.49 L138.56,224.49 L138.67,224.49 L138.78,224.50 L138.89,224.50 L139.00,224.50 L139.11,224.50 L139.23,224.50 L139.34,224.50 L139.45,224.50 L139.56,224.50 L139.67,224.51 L139.78,224.51 L139.89,224.51 L140.00,224.51 L140.12,224.51 L140.23,224.51 L140.34,224.51 L140.45,224.51 L140.56,224.51 L140.67,224.52 L140.78,224.52 L140.89,224.52 L141.01,224.52 L141.12,224.52 L141.23,224.52 L141.34,224.52 L141.45,224.52 L141.56,224.53 L141.67,224.53 L141.78,224.53 L141.90,224.53 L142.01,224.53 L142.12,224.53 L142.23,224.53 L142.34,224.54 L142.45,224.54 L142.56,224.54 L142.67,224.54 L142.79,224.54 L142.90,224.54 L143.01,224.54 L143.12,224.54 L143.23,224.55 L143.34,224.55 L143.45,224.55 L143.56,224.55 L143.68,224.55 L143.79,224.55 L143.90,224.55 L144.01,224.56 L144.12,224.56 L144.23,224.56 L144.34,224.56 L144.45,224.56 L144.57,224.56 L144.68,224.56 L144.79,224.57 L144.90,224.57 L145.01,224.57 L145.12,224.57 L145.23,224.57 L145.34,224.57 L145.46,224.57 L145.57,224.58 L145.68,224.58 L145.79,224.58 L145.90,224.58 L146.01,224.58 L146.12,224.58 L146.23,224.59 L146.35,224.59 L146.46,224.59 L146.57,224.59 L146.68,224.59 L146.79,224.59 L146.90,224.59 L147.01,224.60 L147.12,224.60 L147.24,224.60 L147.35,224.60 L147.46,224.60 L147.57,224.60 L147.68,224.61 L147.79,224.61 L147.90,224.61 L148.02,224.61 L148.13,224.61 L148.24,224.61 L148.35,224.62 L148.46,224.62 L148.57,224.62 L148.68,224.62 L148.79,224.62 L148.91,224.62 L149.02,224.63 L149.13,224.63 L149.24,224.63 L149.35,224.63 L149.46,224.63 L149.57,224.63 L149.68,224.64 L149.80,224.64 L149.91,224.64 L150.02,224.64 L150.13,224.64 L150.24,224.64 L150.35,224.65 L150.46,224.65 L150.57,224.65 L150.69,224.65 L150.80,224.65 L150.91,224.65 L151.02,224.66 L151.13,224.66 L151.24,224.66 L151.35,224.66 L151.46,224.66 L151.58,224.67 L151.69,224.67 L151.80,224.67 L151.91,224.67 L152.02,224.67 L152.13,224.67 L152.24,224.68 L152.35,224.68 L152.47,224.68 L152.58,224.68 L152.69,224.68 L152.80,224.69 L152.91,224.69 L153.02,224.69 L153.13,224.69 L153.24,224.69 L153.36,224.69 L153.47,224.70 L153.58,224.70 L153.69,224.70 L153.80,224.70 L153.91,224.70 L154.02,224.71 L154.13,224.71 L154.25,224.71 L154.36,224.71 L154.47,224.71 L154.58,224.72 L154.69,224.72 L154.80,224.72 L154.91,224.72 L155.02,224.72 L155.14,224.73 L155.25,224.73 L155.36,224.73 L155.47,224.73 L155.58,224.73 L155.69,224.74 L155.80,224.74 L155.91,224.74 L156.03,224.74 L156.14,224.74 L156.25,224.75 L156.36,224.75 L156.47,224.75 L156.58,224.75 L156.69,224.75 L156.80,224.76 L156.92,224.76 L157.03,224.76 L157.14,224.76 L157.25,224.76 L157.36,224.77 L157.47,224.77 L157.58,224.77 L157.69,224.77 L157.81,224.77 L157.92,224.78 L158.03,224.78 L158.14,224.78 L158.25,224.78 L158.36,224.79 L158.47,224.79 L158.58,224.79 L158.70,224.79 L158.81,224.79 L158.92,224.80 L159.03,224.80 L159.14,224.80 L159.25,224.80 L159.36,224.81 L159.47,224.81 L159.59,224.81 L159.70,224.81 L159.81,224.81 L159.92,224.82 L160.03,224.82 L160.14,224.82 L160.25,224.82 L160.36,224.83 L160.48,224.83 L160.59,224.83 L160.70,224.83 L160.81,224.83 L160.92,224.84 L161.03,224.84 L161.14,224.84 L161.25,224.84 L161.37,224.85 L161.48,224.85 L161.59,224.85 L161.70,224.85 L161.81,224.85 L161.92,224.86 L162.03,224.86 L162.14,224.86 L162.26,224.86 L162.37,224.87 L162.48,224.87 L162.59,224.87 L162.70,224.87 L162.81,224.88 L162.92,224.88 L163.03,224.88 L163.15,224.88 L163.26,224.89 L163.37,224.89 L163.48,224.89 L163.59,224.89 L163.70,224.90 L163.81,224.90 L163.92,224.90 L164.04,224.90 L164.15,224.90 L164.26,224.91 L164.37,224.91 L164.48,224.91 L164.59,224.91 L164.70,224.92 L164.81,224.92 L164.93,224.92 L165.04,224.92 L165.15,224.93 L165.26,224.93 L165.37,224.93 L165.48,224.93 L165.59,224.94 L165.70,224.94 L165.82,224.94 L165.93,224.94 L166.04,224.95 L166.15,224.95 L166.26,224.95 L166.37,224.95 L166.48,224.96 L166.60,224.96 L166.71,224.96 L166.82,224.97 L166.93,224.97 L167.04,224.97 L167.15,224.97 L167.26,224.98 L167.37,224.98 L167.49,224.98 L167.60,224.98 L167.71,224.99 L167.82,224.99 L167.93,224.99 L168.04,224.99 L168.15,225.00 L168.26,225.00 L168.38,225.00 L168.49,225.00 L168.60,225.01 L168.71,225.01 L168.82,225.01 L168.93,225.01 L169.04,225.02 L169.15,225.02 L169.27,225.02 L169.38,225.03 L169.49,225.03 L169.60,225.03 L169.71,225.03 L169.82,225.04 L169.93,225.04 L170.04,225.04 L170.16,225.04 L170.27,225.05 L170.38,225.05 L170.49,225.05 L170.60,225.06 L170.71,225.06 L170.82,225.06 L170.93,225.06 L171.05,225.07 L171.16,225.07 L171.27,225.07 L171.38,225.08 L171.49,225.08 L171.60,225.08 L171.71,225.08 L171.82,225.09 L171.94,225.09 L172.05,225.09 L172.16,225.10 L172.27,225.10 L172.38,225.10 L172.49,225.10 L174.12,225.15 L175.76,225.19 L177.39,225.23 L179.02,225.28 L180.66,225.33 L182.29,225.38 L183.92,225.43 L185.56,225.48 L187.19,225.53 L188.82,225.58 L190.46,225.64 L192.09,225.69 L193.72,225.75 L195.36,225.81 L196.99,225.87 L198.62,225.92 L200.26,225.99 L201.89,226.05 L203.52,226.11 L205.15,226.18 L206.79,226.24 L208.42,226.31 L210.05,226.38 L211.69,226.44 L213.32,226.51 L214.95,226.58 L216.59,226.66 L218.22,226.73 L219.85,226.80 L221.49,226.88 L223.12,226.95 L224.75,227.03 L226.39,227.11 L228.02,227.19 L229.65,227.27 L231.28,227.35 L232.92,227.43 L234.55,227.51 L236.18,227.60 L237.82,227.68 L239.45,227.77 L241.08,227.85 L242.72,227.94 L244.35,228.03 L245.98,228.12 L247.62,228.21 L249.25,228.30 L250.88,228.39 L252.52,228.48 L254.15,228.58 L255.78,228.67 L257.41,228.77 L259.05,228.86 L260.68,228.96 L262.31,229.06 L263.95,229.16 L265.58,229.25 L267.21,229.35 L268.85,229.46 L270.48,229.56 L272.11,229.66 L273.75,229.76 L275.38,229.87 L277.01,229.97 L278.65,230.07 L280.28,230.18 L281.91,230.29 L283.55,230.39 L285.18,230.50 L286.81,230.61 L288.44,230.72 L290.08,230.83 L291.71,230.94 L293.34,231.05 L294.98,231.16 L296.61,231.27 L298.24,231.38 L299.88,231.50 L301.51,231.61 L303.14,231.73 L304.78,231.84 L306.41,231.96 L308.04,232.07 L309.68,232.19 L311.31,232.30 L312.94,232.42 L314.57,232.54 L316.21,232.66 L317.84,232.77 L319.47,232.89 L321.11,233.01 L322.74,233.13 L324.37,233.25 L326.01,233.37 L327.64,233.49 L329.27,233.62 L330.91,233.74 L332.54,233.86 L334.17,233.98 L335.81,234.10 L337.44,234.23 L339.07,234.35 L340.70,234.47 L342.34,234.60 L343.97,234.72 L345.60,234.85 L347.24,234.97 L348.87,235.10 L350.50,235.22 L352.14,235.35 L353.77,235.47 L355.40,235.60 L357.04,235.72 L358.67,235.85 L360.30,235.98 L361.94,236.10 L363.57,236.23 L365.20,236.36 L366.84,236.48 L368.47,236.61 L370.10,236.74 L371.73,236.86 L373.37,236.99 L375.00,237.12 L376.63,237.25 L378.27,237.37 L379.90,237.50 L381.53,237.63 L383.17,237.76 L384.80,237.89 L386.43,238.01 L388.07,238.14 L389.70,238.27 L391.33,238.40 L392.97,238.53 L394.60,238.65 L396.23,238.78 L397.86,238.91 L399.50,239.04 L401.13,239.17 L402.76,239.29 L404.40,239.42 L406.03,239.55 L407.66,239.68 L409.30,239.81 L410.93,239.93 L412.56,240.06 L414.20,240.19 L415.83,240.32 L417.46,240.44 L419.10,240.57 L420.73,240.70 L422.36,240.82 L423.99,240.95 L425.63,241.08 L427.26,241.20 L428.89,241.33 L430.53,241.46 L432.16,241.58 L433.79,241.71 L435.43,241.83 L437.06,241.96 L438.69,242.09 L440.33,242.21 L441.96,242.34 L443.59,242.46 L445.23,242.59 L446.86,242.71 L448.49,242.83 L450.13,242.96 L451.76,243.08 L453.39,243.21 L455.02,243.33 L456.66,243.45 L458.29,243.58 L459.92,243.70 L461.56,243.82 L463.19,243.94 L464.82,244.07 L466.46,244.19 L468.09,244.31 L469.72,244.43 L471.36,244.55 L472.99,244.67 L474.62,244.79 L476.26,244.91 L477.89,245.03 L479.52,245.15 L481.15,245.27 L482.79,245.39 L484.42,245.51 L486.05,245.63 L487.69,245.74 L489.32,245.86 L490.95,245.98 L492.59,246.10 L494.22,246.21 L495.85,246.33 L497.49,246.44 L499.12,246.56 L500.75,246.68 L502.39,246.79 L504.02,246.91 L505.65,247.02 L507.29,247.13 L508.92,247.25 L510.55,247.36 L512.18,247.47 L513.82,247.59 L515.45,247.70 L517.08,247.81 L518.72,247.92 L520.35,248.03 L521.98,248.15 L523.62,248.26 L525.25,248.37 L526.88,248.48 L528.52,248.59 L530.15,248.69 L531.78,248.80 L533.42,248.91 L535.05,249.02 L536.68,249.13 L538.31,249.23 L539.95,249.34 L541.58,249.45 L543.21,249.55 L544.85,249.66 L546.48,249.77 L548.11,249.87 L549.75,249.98 L551.38,250.08 L553.01,250.18 L554.65,250.29 L556.28,250.39 L557.91,250.49 L559.55,250.60 L561.18,250.70 L562.81,250.80 L564.44,250.90 L566.08,251.00 L567.71,251.10 L569.34,251.20 L570.98,251.30 L572.61,251.40 L574.24,251.50 L575.88,251.60 L577.51,251.70 L579.14,251.79 L580.78,251.89 L582.41,251.99 L584.04,252.09 L585.68,252.18 L587.31,252.28 L588.94,252.37 L590.58,252.47 L592.21,252.56 L593.84,252.66 L595.47,252.75 L597.11,252.85 L598.74,252.94 L600.37,253.03 L602.01,253.12 L603.64,253.22 L605.27,253.31 L606.91,253.40 L608.54,253.49 L610.17,253.58 L611.81,253.67 L613.44,253.76 L615.07,253.85 L616.71,253.94 L618.34,254.03 L619.97,254.12 L621.60,254.20 L623.24,254.29 L624.87,254.38 L626.50,254.47 L628.14,254.55 L629.77,254.64 L631.40,254.72 L633.04,254.81 L634.67,254.89 L636.30,254.98 L637.94,255.06 L639.57,255.15 L641.20,255.23 L642.84,255.31 L644.47,255.40 L646.10,255.48 L647.73,255.56 L649.37,255.64 L651.00,255.73 L652.63,255.81 L654.27,255.89 L655.90,255.97 L657.53,256.05 L659.17,256.13 L660.80,256.21" fill="none" stroke="#0000ff" stroke-width="4.9" stroke-linejoin="round" clip-path="url(#ct)" stroke-dasharray="22.4 14.1"/>
<path d="M128.10,535.29 L128.21,535.30 L128.32,535.31 L128.43,535.33 L128.55,535.36 L128.66,535.40 L128.77,535.45 L128.88,535.51 L128.99,535.57 L129.10,535.64 L129.21,535.72 L129.32,535.81 L129.44,535.90 L129.55,535.99 L129.66,536.10 L129.77,536.21 L129.88,536.32 L129.99,536.44 L130.10,536.56 L130.21,536.68 L130.33,536.81 L130.44,536.94 L130.55,537.07 L130.66,537.21 L130.77,537.34 L130.88,537.48 L130.99,537.62 L131.10,537.76 L131.22,537.89 L131.33,538.03 L131.44,538.17 L131.55,538.31 L131.66,538.45 L131.77,538.58 L131.88,538.72 L131.99,538.85 L132.11,538.98 L132.22,539.11 L132.33,539.24 L132.44,539.36 L132.55,539.49 L132.66,539.61 L132.77,539.73 L132.88,539.85 L133.00,539.97 L133.11,540.08 L133.22,540.19 L133.33,540.30 L133.44,540.41 L133.55,540.51 L133.66,540.62 L133.77,540.72 L133.89,540.82 L134.00,540.91 L134.11,541.01 L134.22,541.10 L134.33,541.19 L134.44,541.28 L134.55,541.36 L134.66,541.45 L134.78,541.53 L134.89,541.61 L135.00,541.69 L135.11,541.76 L135.22,541.84 L135.33,541.91 L135.44,541.98 L135.55,542.05 L135.67,542.12 L135.78,542.18 L135.89,542.25 L136.00,542.31 L136.11,542.37 L136.22,542.43 L136.33,542.49 L136.44,542.54 L136.56,542.60 L136.67,542.65 L136.78,542.71 L136.89,542.76 L137.00,542.81 L137.11,542.86 L137.22,542.91 L137.33,542.95 L137.45,543.00 L137.56,543.04 L137.67,543.08 L137.78,543.13 L137.89,543.17 L138.00,543.21 L138.11,543.25 L138.22,543.29 L138.34,543.32 L138.45,543.36 L138.56,543.40 L138.67,543.43 L138.78,543.47 L138.89,543.50 L139.00,543.53 L139.11,543.57 L139.23,543.60 L139.34,543.63 L139.45,543.66 L139.56,543.69 L139.67,543.72 L139.78,543.74 L139.89,543.77 L140.00,543.80 L140.12,543.82 L140.23,543.85 L140.34,543.87 L140.45,543.90 L140.56,543.92 L140.67,543.95 L140.78,543.97 L140.89,543.99 L141.01,544.01 L141.12,544.04 L141.23,544.06 L141.34,544.08 L141.45,544.10 L141.56,544.12 L141.67,544.14 L141.78,544.16 L141.90,544.18 L142.01,544.19 L142.12,544.21 L142.23,544.23 L142.34,544.25 L142.45,544.26 L142.56,544.28 L142.67,544.30 L142.79,544.31 L142.90,544.33 L143.01,544.34 L143.12,544.36 L143.23,544.37 L143.34,544.39 L143.45,544.40 L143.56,544.42 L143.68,544.43 L143.79,544.44 L143.90,544.46 L144.01,544.47 L144.12,544.48 L144.23,544.50 L144.34,544.51 L144.45,544.52 L144.57,544.53 L144.68,544.54 L144.79,544.56 L144.90,544.57 L145.01,544.58 L145.12,544.59 L145.23,544.60 L145.34,544.61 L145.46,544.62 L145.57,544.63 L145.68,544.64 L145.79,544.65 L145.90,544.66 L146.01,544.67 L146.12,544.68 L146.23,544.69 L146.35,544.70 L146.46,544.71 L146.57,544.72 L146.68,544.72 L146.79,544.73 L146.90,544.74 L147.01,544.75 L147.12,544.76 L147.24,544.77 L147.35,544.77 L147.46,544.78 L147.57,544.79 L147.68,544.80 L147.79,544.80 L147.90,544.81 L148.02,544.82 L148.13,544.83 L148.24,544.83 L148.35,544.84 L148.46,544.85 L148.57,544.85 L148.68,544.86 L148.79,544.87 L148.91,544.87 L149.02,544.88 L149.13,544.88 L149.24,544.89 L149.35,544.90 L149.46,544.90 L149.57,544.91 L149.68,544.91 L149.80,544.92 L149.91,544.93 L150.02,544.93 L150.13,544.94 L150.24,544.94 L150.35,544.95 L150.46,544.95 L150.57,544.96 L150.69,544.96 L150.80,544.97 L150.91,544.97 L151.02,544.98 L151.13,544.98 L151.24,544.99 L151.35,544.99 L151.46,545.00 L151.58,545.00 L151.69,545.00 L151.80,545.01 L151.91,545.01 L152.02,545.02 L152.13,545.02 L152.24,545.03 L152.35,545.03 L152.47,545.03 L152.58,545.04 L152.69,545.04 L152.80,545.05 L152.91,545.05 L153.02,545.05 L153.13,545.06 L153.24,545.06 L153.36,545.07 L153.47,545.07 L153.58,545.07 L153.69,545.08 L153.80,545.08 L153.91,545.08 L154.02,545.09 L154.13,545.09 L154.25,545.09 L154.36,545.10 L154.47,545.10 L154.58,545.10 L154.69,545.11 L154.80,545.11 L154.91,545.11 L155.02,545.12 L155.14,545.12 L155.25,545.12 L155.36,545.12 L155.47,545.13 L155.58,545.13 L155.69,545.13 L155.80,545.14 L155.91,545.14 L156.03,545.14 L156.14,545.14 L156.25,545.15 L156.36,545.15 L156.47,545.15 L156.58,545.16 L156.69,545.16 L156.80,545.16 L156.92,545.16 L157.03,545.17 L157.14,545.17 L157.25,545.17 L157.36,545.17 L157.47,545.17 L157.58,545.18 L157.69,545.18 L157.81,545.18 L157.92,545.18 L158.03,545.19 L158.14,545.19 L158.25,545.19 L158.36,545.19 L158.47,545.20 L158.58,545.20 L158.70,545.20 L158.81,545.20 L158.92,545.20 L159.03,545.21 L159.14,545.21 L159.25,545.21 L159.36,545.21 L159.47,545.21 L159.59,545.22 L159.70,545.22 L159.81,545.22 L159.92,545.22 L160.03,545.22 L160.14,545.23 L160.25,545.23 L160.36,545.23 L160.48,545.23 L160.59,545.23 L160.70,545.23 L160.81,545.24 L160.92,545.24 L161.03,545.24 L161.14,545.24 L161.25,545.24 L161.37,545.24 L161.48,545.25 L161.59,545.25 L161.70,545.25 L161.81,545.25 L161.92,545.25 L162.03,545.25 L162.14,545.26 L162.26,545.26 L162.37,545.26 L162.48,545.26 L162.59,545.26 L162.70,545.26 L162.81,545.27 L162.92,545.27 L163.03,545.27 L163.15,545.27 L163.26,545.27 L163.37,545.27 L163.48,545.27 L163.59,545.28 L163.70,545.28 L163.81,545.28 L163.92,545.28 L164.04,545.28 L164.15,545.28 L164.26,545.28 L164.37,545.28 L164.48,545.29 L164.59,545.29 L164.70,545.29 L164.81,545.29 L164.93,545.29 L165.04,545.29 L165.15,545.29 L165.26,545.29 L165.37,545.30 L165.48,545.30 L165.59,545.30 L165.70,545.30 L165.82,545.30 L165.93,545.30 L166.04,545.30 L166.15,545.30 L166.26,545.30 L166.37,545.31 L166.48,545.31 L166.60,545.31 L166.71,545.31 L166.82,545.31 L166.93,545.31 L167.04,545.31 L167.15,545.31 L167.26,545.31 L167.37,545.32 L167.49,545.32 L167.60,545.32 L167.71,545.32 L167.82,545.32 L167.93,545.32 L168.04,545.32 L168.15,545.32 L168.26,545.32 L168.38,545.32 L168.49,545.33 L168.60,545.33 L168.71,545.33 L168.82,545.33 L168.93,545.33 L169.04,545.33 L169.15,545.33 L169.27,545.33 L169.38,545.33 L169.49,545.33 L169.60,545.33 L169.71,545.34 L169.82,545.34 L169.93,545.34 L170.04,545.34 L170.16,545.34 L170.27,545.34 L170.38,545.34 L170.49,545.34 L170.60,545.34 L170.71,545.34 L170.82,545.34 L170.93,545.34 L171.05,545.35 L171.16,545.35 L171.27,545.35 L171.38,545.35 L171.49,545.35 L171.60,545.35 L171.71,545.35 L171.82,545.35 L171.94,545.35 L172.05,545.35 L172.16,545.35 L172.27,545.35 L172.38,545.35 L172.49,545.36 L174.12,545.37 L175.76,545.37 L177.39,545.38 L179.02,545.39 L180.66,545.40 L182.29,545.40 L183.92,545.41 L185.56,545.41 L187.19,545.42 L188.82,545.42 L190.46,545.43 L192.09,545.43 L193.72,545.43 L195.36,545.44 L196.99,545.44 L198.62,545.44 L200.26,545.44 L201.89,545.45 L203.52,545.45 L205.15,545.45 L206.79,545.45 L208.42,545.46 L210.05,545.46 L211.69,545.46 L213.32,545.46 L214.95,545.46 L216.59,545.46 L218.22,545.46 L219.85,545.47 L221.49,545.47 L223.12,545.47 L224.75,545.47 L226.39,545.47 L228.02,545.47 L229.65,545.47 L231.28,545.47 L232.92,545.47 L234.55,545.47 L236.18,545.48 L237.82,545.48 L239.45,545.48 L241.08,545.48 L242.72,545.48 L244.35,545.48 L245.98,545.48 L247.62,545.48 L249.25,545.48 L250.88,545.48 L252.52,545.48 L254.15,545.48 L255.78,545.48 L257.41,545.48 L259.05,545.48 L260.68,545.48 L262.31,545.48 L263.95,545.48 L265.58,545.48 L267.21,545.49 L268.85,545.49 L270.48,545.49 L272.11,545.49 L273.75,545.49 L275.38,545.49 L277.01,545.49 L278.65,545.49 L280.28,545.49 L281.91,545.49 L283.55,545.49 L285.18,545.49 L286.81,545.49 L288.44,545.49 L290.08,545.49 L291.71,545.49 L293.34,545.49 L294.98,545.49 L296.61,545.49 L298.24,545.49 L299.88,545.49 L301.51,545.49 L303.14,545.49 L304.78,545.49 L306.41,545.49 L308.04,545.49 L309.68,545.49 L311.31,545.49 L312.94,545.49 L314.57,545.49 L316.21,545.49 L317.84,545.49 L319.47,545.49 L321.11,545.49 L322.74,545.49 L324.37,545.49 L326.01,545.49 L327.64,545.49 L329.27,545.49 L330.91,545.49 L332.54,545.49 L334.17,545.49 L335.81,545.49 L337.44,545.49 L339.07,545.49 L340.70,545.49 L342.34,545.49 L343.97,545.49 L345.60,545.49 L347.24,545.49 L348.87,545.49 L350.50,545.49 L352.14,545.49 L353.77,545.49 L355.40,545.49 L357.04,545.49 L358.67,545.49 L360.30,545.49 L361.94,545.49 L363.57,545.49 L365.20,545.49 L366.84,545.49 L368.47,545.49 L370.10,545.50 L371.73,545.50 L373.37,545.50 L375.00,545.50 L376.63,545.50 L378.27,545.50 L379.90,545.50 L381.53,545.50 L383.17,545.50 L384.80,545.50 L386.43,545.50 L388.07,545.50 L389.70,545.50 L391.33,545.50 L392.97,545.50 L394.60,545.50 L396.23,545.50 L397.86,545.50 L399.50,545.50 L401.13,545.50 L402.76,545.50 L404.40,545.50 L406.03,545.50 L407.66,545.50 L409.30,545.50 L410.93,545.50 L412.56,545.50 L414.20,545.50 L415.83,545.50 L417.46,545.50 L419.10,545.50 L420.73,545.50 L422.36,545.50 L423.99,545.50 L425.63,545.50 L427.26,545.50 L428.89,545.50 L430.53,545.50 L432.16,545.50 L433.79,545.50 L435.43,545.50 L437.06,545.50 L438.69,545.50 L440.33,545.50 L441.96,545.50 L443.59,545.50 L445.23,545.50 L446.86,545.50 L448.49,545.50 L450.13,545.50 L451.76,545.50 L453.39,545.50 L455.02,545.50 L456.66,545.50 L458.29,545.50 L459.92,545.50 L461.56,545.50 L463.19,545.50 L464.82,545.50 L466.46,545.50 L468.09,545.50 L469.72,545.50 L471.36,545.50 L472.99,545.50 L474.62,545.50 L476.26,545.50 L477.89,545.50 L479.52,545.50 L481.15,545.50 L482.79,545.50 L484.42,545.50 L486.05,545.50 L487.69,545.50 L489.32,545.50 L490.95,545.50 L492.59,545.50 L494.22,545.50 L495.85,545.50 L497.49,545.50 L499.12,545.50 L500.75,545.50 L502.39,545.50 L504.02,545.50 L505.65,545.50 L507.29,545.50 L508.92,545.50 L510.55,545.50 L512.18,545.50 L513.82,545.50 L515.45,545.50 L517.08,545.50 L518.72,545.50 L520.35,545.50 L521.98,545.50 L523.62,545.50 L525.25,545.50 L526.88,545.50 L528.52,545.50 L530.15,545.50 L531.78,545.50 L533.42,545.50 L535.05,545.50 L536.68,545.50 L538.31,545.50 L539.95,545.50 L541.58,545.50 L543.21,545.50 L544.85,545.50 L546.48,545.50 L548.11,545.50 L549.75,545.50 L551.38,545.50 L553.01,545.50 L554.65,545.50 L556.28,545.50 L557.91,545.50 L559.55,545.50 L561.18,545.50 L562.81,545.50 L564.44,545.50 L566.08,545.50 L567.71,545.50 L569.34,545.50 L570.98,545.50 L572.61,545.50 L574.24,545.50 L575.88,545.50 L577.51,545.50 L579.14,545.50 L580.78,545.50 L582.41,545.50 L584.04,545.50 L585.68,545.50 L587.31,545.50 L588.94,545.50 L590.58,545.50 L592.21,545.50 L593.84,545.50 L595.47,545.50 L597.11,545.50 L598.74,545.50 L600.37,545.50 L602.01,545.50 L603.64,545.50 L605.27,545.50 L606.91,545.50 L608.54,545.50 L610.17,545.50 L611.81,545.50 L613.44,545.50 L615.07,545.50 L616.71,545.50 L618.34,545.50 L619.97,545.50 L621.60,545.50 L623.24,545.50 L624.87,545.50 L626.50,545.50 L628.14,545.50 L629.77,545.50 L631.40,545.50 L633.04,545.50 L634.67,545.50 L636.30,545.50 L637.94,545.50 L639.57,545.50 L641.20,545.50 L642.84,545.50 L644.47,545.50 L646.10,545.50 L647.73,545.50 L649.37,545.50 L651.00,545.50 L652.63,545.50 L654.27,545.50 L655.90,545.50 L657.53,545.50 L659.17,545.50 L660.80,545.50" fill="none" stroke="#000000" stroke-width="4.5" stroke-linejoin="round" clip-path="url(#cb)"/>
<rect x="121.60" y="276.30" width="13.0" height="13.0" fill="none" stroke="#008000" stroke-width="1.3"/>
<rect x="170.43" y="294.60" width="13.0" height="13.0" fill="none" stroke="#008000" stroke-width="1.3"/>
<rect x="219.26" y="336.65" width="13.0" height="13.0" fill="none" stroke="#008000" stroke-width="1.3"/>
<rect x="268.09" y="381.80" width="13.0" height="13.0" fill="none" stroke="#008000" stroke-width="1.3"/>
<rect x="316.92" y="419.33" width="13.0" height="13.0" fill="none" stroke="#008000" stroke-width="1.3"/>
<rect x="365.75" y="447.53" width="13.0" height="13.0" fill="none" stroke="#008000" stroke-width="1.3"/>
<rect x="414.59" y="468.03" width="13.0" height="13.0" fill="none" stroke="#008000" stroke-width="1.3"/>
<rect x="463.42" y="482.89" width="13.0" height="13.0" fill="none" stroke="#008000" stroke-width="1.3"/>
<rect x="512.25" y="493.75" width="13.0" height="13.0" fill="none" stroke="#008000" stroke-width="1.3"/>
<rect x="561.08" y="501.81" width="13.0" height="13.0" fill="none" stroke="#008000" stroke-width="1.3"/>
<rect x="609.91" y="507.87" width="13.0" height="13.0" fill="none" stroke="#008000" stroke-width="1.3"/>
<path d="M128.10,282.80 L128.21,282.80 L128.32,282.80 L128.43,282.80 L128.55,282.80 L128.66,282.81 L128.77,282.81 L128.88,282.81 L128.99,282.81 L129.10,282.81 L129.21,282.82 L129.32,282.82 L129.44,282.82 L129.55,282.82 L129.66,282.83 L129.77,282.83 L129.88,282.84 L129.99,282.84 L130.10,282.84 L130.21,282.85 L130.33,282.85 L130.44,282.86 L130.55,282.86 L130.66,282.87 L130.77,282.87 L130.88,282.88 L130.99,282.88 L131.10,282.89 L131.22,282.90 L131.33,282.90 L131.44,282.91 L131.55,282.91 L131.66,282.92 L131.77,282.93 L131.88,282.94 L131.99,282.94 L132.11,282.95 L132.22,282.96 L132.33,282.97 L132.44,282.98 L132.55,282.98 L132.66,282.99 L132.77,283.00 L132.88,283.01 L133.00,283.02 L133.11,283.03 L133.22,283.04 L133.33,283.05 L133.44,283.06 L133.55,283.07 L133.66,283.08 L133.77,283.09 L133.89,283.10 L134.00,283.11 L134.11,283.12 L134.22,283.14 L134.33,283.15 L134.44,283.16 L134.55,283.17 L134.66,283.18 L134.78,283.20 L134.89,283.21 L135.00,283.22 L135.11,283.24 L135.22,283.25 L135.33,283.26 L135.44,283.28 L135.55,283.29 L135.67,283.30 L135.78,283.32 L135.89,283.33 L136.00,283.35 L136.11,283.36 L136.22,283.38 L136.33,283.39 L136.44,283.41 L136.56,283.42 L136.67,283.44 L136.78,283.46 L136.89,283.47 L137.00,283.49 L137.11,283.51 L137.22,283.52 L137.33,283.54 L137.45,283.56 L137.56,283.58 L137.67,283.59 L137.78,283.61 L137.89,283.63 L138.00,283.65 L138.11,283.67 L138.22,283.68 L138.34,283.70 L138.45,283.72 L138.56,283.74 L138.67,283.76 L138.78,283.78 L138.89,283.80 L139.00,283.82 L139.11,283.84 L139.23,283.86 L139.34,283.88 L139.45,283.90 L139.56,283.92 L139.67,283.94 L139.78,283.97 L139.89,283.99 L140.00,284.01 L140.12,284.03 L140.23,284.05 L140.34,284.08 L140.45,284.10 L140.56,284.12 L140.67,284.14 L140.78,284.17 L140.89,284.19 L141.01,284.22 L141.12,284.24 L141.23,284.26 L141.34,284.29 L141.45,284.31 L141.56,284.34 L141.67,284.36 L141.78,284.39 L141.90,284.41 L142.01,284.44 L142.12,284.46 L142.23,284.49 L142.34,284.51 L142.45,284.54 L142.56,284.57 L142.67,284.59 L142.79,284.62 L142.90,284.65 L143.01,284.67 L143.12,284.70 L143.23,284.73 L143.34,284.76 L143.45,284.78 L143.56,284.81 L143.68,284.84 L143.79,284.87 L143.90,284.90 L144.01,284.93 L144.12,284.95 L144.23,284.98 L144.34,285.01 L144.45,285.04 L144.57,285.07 L144.68,285.10 L144.79,285.13 L144.90,285.16 L145.01,285.19 L145.12,285.22 L145.23,285.26 L145.34,285.29 L145.46,285.32 L145.57,285.35 L145.68,285.38 L145.79,285.41 L145.90,285.44 L146.01,285.48 L146.12,285.51 L146.23,285.54 L146.35,285.57 L146.46,285.61 L146.57,285.64 L146.68,285.67 L146.79,285.71 L146.90,285.74 L147.01,285.78 L147.12,285.81 L147.24,285.84 L147.35,285.88 L147.46,285.91 L147.57,285.95 L147.68,285.98 L147.79,286.02 L147.90,286.05 L148.02,286.09 L148.13,286.13 L148.24,286.16 L148.35,286.20 L148.46,286.23 L148.57,286.27 L148.68,286.31 L148.79,286.34 L148.91,286.38 L149.02,286.42 L149.13,286.46 L149.24,286.49 L149.35,286.53 L149.46,286.57 L149.57,286.61 L149.68,286.65 L149.80,286.69 L149.91,286.72 L150.02,286.76 L150.13,286.80 L150.24,286.84 L150.35,286.88 L150.46,286.92 L150.57,286.96 L150.69,287.00 L150.80,287.04 L150.91,287.08 L151.02,287.12 L151.13,287.16 L151.24,287.20 L151.35,287.25 L151.46,287.29 L151.58,287.33 L151.69,287.37 L151.80,287.41 L151.91,287.45 L152.02,287.50 L152.13,287.54 L152.24,287.58 L152.35,287.62 L152.47,287.67 L152.58,287.71 L152.69,287.75 L152.80,287.80 L152.91,287.84 L153.02,287.88 L153.13,287.93 L153.24,287.97 L153.36,288.02 L153.47,288.06 L153.58,288.11 L153.69,288.15 L153.80,288.20 L153.91,288.24 L154.02,288.29 L154.13,288.33 L154.25,288.38 L154.36,288.42 L154.47,288.47 L154.58,288.52 L154.69,288.56 L154.80,288.61 L154.91,288.66 L155.02,288.70 L155.14,288.75 L155.25,288.80 L155.36,288.85 L155.47,288.89 L155.58,288.94 L155.69,288.99 L155.80,289.04 L155.91,289.09 L156.03,289.14 L156.14,289.19 L156.25,289.23 L156.36,289.28 L156.47,289.33 L156.58,289.38 L156.69,289.43 L156.80,289.48 L156.92,289.53 L157.03,289.58 L157.14,289.63 L157.25,289.68 L157.36,289.73 L157.47,289.78 L157.58,289.84 L157.69,289.89 L157.81,289.94 L157.92,289.99 L158.03,290.04 L158.14,290.09 L158.25,290.15 L158.36,290.20 L158.47,290.25 L158.58,290.30 L158.70,290.36 L158.81,290.41 L158.92,290.46 L159.03,290.51 L159.14,290.57 L159.25,290.62 L159.36,290.68 L159.47,290.73 L159.59,290.78 L159.70,290.84 L159.81,290.89 L159.92,290.95 L160.03,291.00 L160.14,291.06 L160.25,291.11 L160.36,291.17 L160.48,291.22 L160.59,291.28 L160.70,291.33 L160.81,291.39 L160.92,291.45 L161.03,291.50 L161.14,291.56 L161.25,291.61 L161.37,291.67 L161.48,291.73 L161.59,291.79 L161.70,291.84 L161.81,291.90 L161.92,291.96 L162.03,292.02 L162.14,292.07 L162.26,292.13 L162.37,292.19 L162.48,292.25 L162.59,292.31 L162.70,292.37 L162.81,292.42 L162.92,292.48 L163.03,292.54 L163.15,292.60 L163.26,292.66 L163.37,292.72 L163.48,292.78 L163.59,292.84 L163.70,292.90 L163.81,292.96 L163.92,293.02 L164.04,293.08 L164.15,293.14 L164.26,293.20 L164.37,293.26 L164.48,293.33 L164.59,293.39 L164.70,293.45 L164.81,293.51 L164.93,293.57 L165.04,293.63 L165.15,293.70 L165.26,293.76 L165.37,293.82 L165.48,293.88 L165.59,293.95 L165.70,294.01 L165.82,294.07 L165.93,294.14 L166.04,294.20 L166.15,294.26 L166.26,294.33 L166.37,294.39 L166.48,294.45 L166.60,294.52 L166.71,294.58 L166.82,294.65 L166.93,294.71 L167.04,294.78 L167.15,294.84 L167.26,294.91 L167.37,294.97 L167.49,295.04 L167.60,295.10 L167.71,295.17 L167.82,295.23 L167.93,295.30 L168.04,295.37 L168.15,295.43 L168.26,295.50 L168.38,295.57 L168.49,295.63 L168.60,295.70 L168.71,295.77 L168.82,295.83 L168.93,295.90 L169.04,295.97 L169.15,296.03 L169.27,296.10 L169.38,296.17 L169.49,296.24 L169.60,296.31 L169.71,296.37 L169.82,296.44 L169.93,296.51 L170.04,296.58 L170.16,296.65 L170.27,296.72 L170.38,296.79 L170.49,296.86 L170.60,296.93 L170.71,297.00 L170.82,297.07 L170.93,297.14 L171.05,297.21 L171.16,297.28 L171.27,297.35 L171.38,297.42 L171.49,297.49 L171.60,297.56 L171.71,297.63 L171.82,297.70 L171.94,297.77 L172.05,297.84 L172.16,297.91 L172.27,297.98 L172.38,298.06 L172.49,298.13 L174.12,299.20 L175.76,300.30 L177.39,301.42 L179.02,302.58 L180.66,303.76 L182.29,304.96 L183.92,306.19 L185.56,307.44 L187.19,308.72 L188.82,310.01 L190.46,311.33 L192.09,312.67 L193.72,314.02 L195.36,315.40 L196.99,316.79 L198.62,318.19 L200.26,319.62 L201.89,321.05 L203.52,322.50 L205.15,323.96 L206.79,325.44 L208.42,326.92 L210.05,328.41 L211.69,329.92 L213.32,331.43 L214.95,332.95 L216.59,334.48 L218.22,336.01 L219.85,337.55 L221.49,339.09 L223.12,340.64 L224.75,342.19 L226.39,343.74 L228.02,345.29 L229.65,346.85 L231.28,348.41 L232.92,349.96 L234.55,351.52 L236.18,353.08 L237.82,354.63 L239.45,356.18 L241.08,357.73 L242.72,359.28 L244.35,360.82 L245.98,362.36 L247.62,363.89 L249.25,365.43 L250.88,366.95 L252.52,368.47 L254.15,369.98 L255.78,371.49 L257.41,372.99 L259.05,374.48 L260.68,375.97 L262.31,377.45 L263.95,378.92 L265.58,380.38 L267.21,381.84 L268.85,383.29 L270.48,384.72 L272.11,386.15 L273.75,387.57 L275.38,388.98 L277.01,390.38 L278.65,391.78 L280.28,393.16 L281.91,394.53 L283.55,395.89 L285.18,397.24 L286.81,398.58 L288.44,399.91 L290.08,401.23 L291.71,402.54 L293.34,403.84 L294.98,405.13 L296.61,406.41 L298.24,407.68 L299.88,408.93 L301.51,410.18 L303.14,411.41 L304.78,412.63 L306.41,413.85 L308.04,415.05 L309.68,416.24 L311.31,417.42 L312.94,418.59 L314.57,419.75 L316.21,420.89 L317.84,422.03 L319.47,423.16 L321.11,424.27 L322.74,425.38 L324.37,426.47 L326.01,427.55 L327.64,428.62 L329.27,429.69 L330.91,430.74 L332.54,431.78 L334.17,432.81 L335.81,433.83 L337.44,434.84 L339.07,435.84 L340.70,436.82 L342.34,437.80 L343.97,438.77 L345.60,439.73 L347.24,440.68 L348.87,441.62 L350.50,442.55 L352.14,443.47 L353.77,444.38 L355.40,445.28 L357.04,446.17 L358.67,447.05 L360.30,447.92 L361.94,448.79 L363.57,449.64 L365.20,450.48 L366.84,451.32 L368.47,452.15 L370.10,452.96 L371.73,453.77 L373.37,454.57 L375.00,455.37 L376.63,456.15 L378.27,456.93 L379.90,457.69 L381.53,458.45 L383.17,459.20 L384.80,459.94 L386.43,460.68 L388.07,461.41 L389.70,462.12 L391.33,462.84 L392.97,463.54 L394.60,464.24 L396.23,464.92 L397.86,465.60 L399.50,466.28 L401.13,466.94 L402.76,467.60 L404.40,468.26 L406.03,468.90 L407.66,469.54 L409.30,470.17 L410.93,470.79 L412.56,471.41 L414.20,472.02 L415.83,472.63 L417.46,473.22 L419.10,473.82 L420.73,474.40 L422.36,474.98 L423.99,475.55 L425.63,476.12 L427.26,476.68 L428.89,477.23 L430.53,477.78 L432.16,478.33 L433.79,478.86 L435.43,479.39 L437.06,479.92 L438.69,480.44 L440.33,480.95 L441.96,481.46 L443.59,481.97 L445.23,482.46 L446.86,482.96 L448.49,483.44 L450.13,483.93 L451.76,484.40 L453.39,484.88 L455.02,485.34 L456.66,485.81 L458.29,486.26 L459.92,486.72 L461.56,487.16 L463.19,487.61 L464.82,488.05 L466.46,488.48 L468.09,488.91 L469.72,489.34 L471.36,489.76 L472.99,490.17 L474.62,490.58 L476.26,490.99 L477.89,491.40 L479.52,491.80 L481.15,492.19 L482.79,492.58 L484.42,492.97 L486.05,493.35 L487.69,493.73 L489.32,494.11 L490.95,494.48 L492.59,494.85 L494.22,495.21 L495.85,495.57 L497.49,495.93 L499.12,496.28 L500.75,496.63 L502.39,496.97 L504.02,497.32 L505.65,497.66 L507.29,497.99 L508.92,498.32 L510.55,498.65 L512.18,498.98 L513.82,499.30 L515.45,499.62 L517.08,499.93 L518.72,500.25 L520.35,500.56 L521.98,500.86 L523.62,501.17 L525.25,501.47 L526.88,501.76 L528.52,502.06 L530.15,502.35 L531.78,502.64 L533.42,502.92 L535.05,503.21 L536.68,503.49 L538.31,503.77 L539.95,504.04 L541.58,504.31 L543.21,504.58 L544.85,504.85 L546.48,505.11 L548.11,505.38 L549.75,505.63 L551.38,505.89 L553.01,506.15 L554.65,506.40 L556.28,506.65 L557.91,506.89 L559.55,507.14 L561.18,507.38 L562.81,507.62 L564.44,507.86 L566.08,508.09 L567.71,508.33 L569.34,508.56 L570.98,508.79 L572.61,509.01 L574.24,509.24 L575.88,509.46 L577.51,509.68 L579.14,509.90 L580.78,510.12 L582.41,510.33 L584.04,510.54 L585.68,510.75 L587.31,510.96 L588.94,511.17 L590.58,511.37 L592.21,511.58 L593.84,511.78 L595.47,511.98 L597.11,512.17 L598.74,512.37 L600.37,512.56 L602.01,512.75 L603.64,512.94 L605.27,513.13 L606.91,513.32 L608.54,513.50 L610.17,513.69 L611.81,513.87 L613.44,514.05 L615.07,514.23 L616.71,514.41 L618.34,514.58 L619.97,514.75 L621.60,514.93 L623.24,515.10 L624.87,515.27 L626.50,515.43 L628.14,515.60 L629.77,515.76 L631.40,515.93 L633.04,516.09 L634.67,516.25 L636.30,516.41 L637.94,516.57 L639.57,516.72 L641.20,516.88 L642.84,517.03 L644.47,517.18 L646.10,517.33 L647.73,517.48 L649.37,517.63 L651.00,517.78 L652.63,517.93 L654.27,518.07 L655.90,518.21 L657.53,518.36 L659.17,518.50 L660.80,518.64" fill="none" stroke="#008000" stroke-width="4.9" stroke-linejoin="round" clip-path="url(#cb)"/>
<path d="M128.10,366.67 L128.21,366.67 L128.32,366.67 L128.43,366.67 L128.55,366.67 L128.66,366.67 L128.77,366.67 L128.88,366.67 L128.99,366.68 L129.10,366.68 L129.21,366.68 L129.32,366.68 L129.44,366.68 L129.55,366.68 L129.66,366.68 L129.77,366.68 L129.88,366.69 L129.99,366.69 L130.10,366.69 L130.21,366.69 L130.33,366.69 L130.44,366.69 L130.55,366.70 L130.66,366.70 L130.77,366.70 L130.88,366.70 L130.99,366.70 L131.10,366.71 L131.22,366.71 L131.33,366.71 L131.44,366.71 L131.55,366.72 L131.66,366.72 L131.77,366.72 L131.88,366.72 L131.99,366.73 L132.11,366.73 L132.22,366.73 L132.33,366.73 L132.44,366.74 L132.55,366.74 L132.66,366.74 L132.77,366.75 L132.88,366.75 L133.00,366.75 L133.11,366.76 L133.22,366.76 L133.33,366.76 L133.44,366.77 L133.55,366.77 L133.66,366.77 L133.77,366.78 L133.89,366.78 L134.00,366.78 L134.11,366.79 L134.22,366.79 L134.33,366.80 L134.44,366.80 L134.55,366.80 L134.66,366.81 L134.78,366.81 L134.89,366.82 L135.00,366.82 L135.11,366.83 L135.22,366.83 L135.33,366.83 L135.44,366.84 L135.55,366.84 L135.67,366.85 L135.78,366.85 L135.89,366.86 L136.00,366.86 L136.11,366.87 L136.22,366.87 L136.33,366.88 L136.44,366.88 L136.56,366.89 L136.67,366.89 L136.78,366.90 L136.89,366.90 L137.00,366.91 L137.11,366.91 L137.22,366.92 L137.33,366.92 L137.45,366.93 L137.56,366.94 L137.67,366.94 L137.78,366.95 L137.89,366.95 L138.00,366.96 L138.11,366.96 L138.22,366.97 L138.34,366.98 L138.45,366.98 L138.56,366.99 L138.67,367.00 L138.78,367.00 L138.89,367.01 L139.00,367.01 L139.11,367.02 L139.23,367.03 L139.34,367.03 L139.45,367.04 L139.56,367.05 L139.67,367.05 L139.78,367.06 L139.89,367.07 L140.00,367.08 L140.12,367.08 L140.23,367.09 L140.34,367.10 L140.45,367.10 L140.56,367.11 L140.67,367.12 L140.78,367.13 L140.89,367.13 L141.01,367.14 L141.12,367.15 L141.23,367.16 L141.34,367.16 L141.45,367.17 L141.56,367.18 L141.67,367.19 L141.78,367.19 L141.90,367.20 L142.01,367.21 L142.12,367.22 L142.23,367.23 L142.34,367.24 L142.45,367.24 L142.56,367.25 L142.67,367.26 L142.79,367.27 L142.90,367.28 L143.01,367.29 L143.12,367.29 L143.23,367.30 L143.34,367.31 L143.45,367.32 L143.56,367.33 L143.68,367.34 L143.79,367.35 L143.90,367.36 L144.01,367.37 L144.12,367.37 L144.23,367.38 L144.34,367.39 L144.45,367.40 L144.57,367.41 L144.68,367.42 L144.79,367.43 L144.90,367.44 L145.01,367.45 L145.12,367.46 L145.23,367.47 L145.34,367.48 L145.46,367.49 L145.57,367.50 L145.68,367.51 L145.79,367.52 L145.90,367.53 L146.01,367.54 L146.12,367.55 L146.23,367.56 L146.35,367.57 L146.46,367.58 L146.57,367.59 L146.68,367.60 L146.79,367.61 L146.90,367.62 L147.01,367.63 L147.12,367.64 L147.24,367.65 L147.35,367.67 L147.46,367.68 L147.57,367.69 L147.68,367.70 L147.79,367.71 L147.90,367.72 L148.02,367.73 L148.13,367.74 L148.24,367.75 L148.35,367.77 L148.46,367.78 L148.57,367.79 L148.68,367.80 L148.79,367.81 L148.91,367.82 L149.02,367.84 L149.13,367.85 L149.24,367.86 L149.35,367.87 L149.46,367.88 L149.57,367.89 L149.68,367.91 L149.80,367.92 L149.91,367.93 L150.02,367.94 L150.13,367.96 L150.24,367.97 L150.35,367.98 L150.46,367.99 L150.57,368.01 L150.69,368.02 L150.80,368.03 L150.91,368.04 L151.02,368.06 L151.13,368.07 L151.24,368.08 L151.35,368.09 L151.46,368.11 L151.58,368.12 L151.69,368.13 L151.80,368.15 L151.91,368.16 L152.02,368.17 L152.13,368.19 L152.24,368.20 L152.35,368.21 L152.47,368.23 L152.58,368.24 L152.69,368.25 L152.80,368.27 L152.91,368.28 L153.02,368.30 L153.13,368.31 L153.24,368.32 L153.36,368.34 L153.47,368.35 L153.58,368.37 L153.69,368.38 L153.80,368.39 L153.91,368.41 L154.02,368.42 L154.13,368.44 L154.25,368.45 L154.36,368.47 L154.47,368.48 L154.58,368.49 L154.69,368.51 L154.80,368.52 L154.91,368.54 L155.02,368.55 L155.14,368.57 L155.25,368.58 L155.36,368.60 L155.47,368.61 L155.58,368.63 L155.69,368.64 L155.80,368.66 L155.91,368.67 L156.03,368.69 L156.14,368.71 L156.25,368.72 L156.36,368.74 L156.47,368.75 L156.58,368.77 L156.69,368.78 L156.80,368.80 L156.92,368.81 L157.03,368.83 L157.14,368.85 L157.25,368.86 L157.36,368.88 L157.47,368.89 L157.58,368.91 L157.69,368.93 L157.81,368.94 L157.92,368.96 L158.03,368.98 L158.14,368.99 L158.25,369.01 L158.36,369.02 L158.47,369.04 L158.58,369.06 L158.70,369.07 L158.81,369.09 L158.92,369.11 L159.03,369.12 L159.14,369.14 L159.25,369.16 L159.36,369.18 L159.47,369.19 L159.59,369.21 L159.70,369.23 L159.81,369.24 L159.92,369.26 L160.03,369.28 L160.14,369.30 L160.25,369.31 L160.36,369.33 L160.48,369.35 L160.59,369.37 L160.70,369.38 L160.81,369.40 L160.92,369.42 L161.03,369.44 L161.14,369.46 L161.25,369.47 L161.37,369.49 L161.48,369.51 L161.59,369.53 L161.70,369.55 L161.81,369.56 L161.92,369.58 L162.03,369.60 L162.14,369.62 L162.26,369.64 L162.37,369.66 L162.48,369.67 L162.59,369.69 L162.70,369.71 L162.81,369.73 L162.92,369.75 L163.03,369.77 L163.15,369.79 L163.26,369.81 L163.37,369.82 L163.48,369.84 L163.59,369.86 L163.70,369.88 L163.81,369.90 L163.92,369.92 L164.04,369.94 L164.15,369.96 L164.26,369.98 L164.37,370.00 L164.48,370.02 L164.59,370.04 L164.70,370.06 L164.81,370.08 L164.93,370.10 L165.04,370.12 L165.15,370.14 L165.26,370.16 L165.37,370.17 L165.48,370.19 L165.59,370.21 L165.70,370.24 L165.82,370.26 L165.93,370.28 L166.04,370.30 L166.15,370.32 L166.26,370.34 L166.37,370.36 L166.48,370.38 L166.60,370.40 L166.71,370.42 L166.82,370.44 L166.93,370.46 L167.04,370.48 L167.15,370.50 L167.26,370.52 L167.37,370.54 L167.49,370.56 L167.60,370.59 L167.71,370.61 L167.82,370.63 L167.93,370.65 L168.04,370.67 L168.15,370.69 L168.26,370.71 L168.38,370.73 L168.49,370.75 L168.60,370.78 L168.71,370.80 L168.82,370.82 L168.93,370.84 L169.04,370.86 L169.15,370.88 L169.27,370.91 L169.38,370.93 L169.49,370.95 L169.60,370.97 L169.71,370.99 L169.82,371.02 L169.93,371.04 L170.04,371.06 L170.16,371.08 L170.27,371.10 L170.38,371.13 L170.49,371.15 L170.60,371.17 L170.71,371.19 L170.82,371.22 L170.93,371.24 L171.05,371.26 L171.16,371.28 L171.27,371.31 L171.38,371.33 L171.49,371.35 L171.60,371.38 L171.71,371.40 L171.82,371.42 L171.94,371.45 L172.05,371.47 L172.16,371.49 L172.27,371.51 L172.38,371.54 L172.49,371.56 L174.12,371.91 L175.76,372.27 L177.39,372.64 L179.02,373.02 L180.66,373.41 L182.29,373.81 L183.92,374.22 L185.56,374.64 L187.19,375.07 L188.82,375.51 L190.46,375.96 L192.09,376.42 L193.72,376.89 L195.36,377.36 L196.99,377.85 L198.62,378.34 L200.26,378.85 L201.89,379.36 L203.52,379.88 L205.15,380.40 L206.79,380.94 L208.42,381.48 L210.05,382.03 L211.69,382.59 L213.32,383.15 L214.95,383.72 L216.59,384.30 L218.22,384.88 L219.85,385.47 L221.49,386.07 L223.12,386.67 L224.75,387.28 L226.39,387.89 L228.02,388.51 L229.65,389.14 L231.28,389.77 L232.92,390.40 L234.55,391.04 L236.18,391.68 L237.82,392.33 L239.45,392.98 L241.08,393.64 L242.72,394.30 L244.35,394.96 L245.98,395.63 L247.62,396.30 L249.25,396.97 L250.88,397.65 L252.52,398.32 L254.15,399.01 L255.78,399.69 L257.41,400.38 L259.05,401.06 L260.68,401.75 L262.31,402.45 L263.95,403.14 L265.58,403.84 L267.21,404.53 L268.85,405.23 L270.48,405.93 L272.11,406.63 L273.75,407.33 L275.38,408.04 L277.01,408.74 L278.65,409.44 L280.28,410.15 L281.91,410.85 L283.55,411.55 L285.18,412.26 L286.81,412.96 L288.44,413.67 L290.08,414.37 L291.71,415.07 L293.34,415.78 L294.98,416.48 L296.61,417.18 L298.24,417.88 L299.88,418.58 L301.51,419.28 L303.14,419.97 L304.78,420.67 L306.41,421.37 L308.04,422.06 L309.68,422.75 L311.31,423.44 L312.94,424.13 L314.57,424.82 L316.21,425.50 L317.84,426.19 L319.47,426.87 L321.11,427.55 L322.74,428.23 L324.37,428.90 L326.01,429.57 L327.64,430.25 L329.27,430.91 L330.91,431.58 L332.54,432.25 L334.17,432.91 L335.81,433.57 L337.44,434.22 L339.07,434.88 L340.70,435.53 L342.34,436.18 L343.97,436.82 L345.60,437.47 L347.24,438.11 L348.87,438.75 L350.50,439.38 L352.14,440.01 L353.77,440.64 L355.40,441.27 L357.04,441.89 L358.67,442.51 L360.30,443.13 L361.94,443.74 L363.57,444.35 L365.20,444.96 L366.84,445.56 L368.47,446.17 L370.10,446.76 L371.73,447.36 L373.37,447.95 L375.00,448.54 L376.63,449.13 L378.27,449.71 L379.90,450.29 L381.53,450.86 L383.17,451.44 L384.80,452.01 L386.43,452.57 L388.07,453.13 L389.70,453.69 L391.33,454.25 L392.97,454.80 L394.60,455.35 L396.23,455.90 L397.86,456.44 L399.50,456.98 L401.13,457.52 L402.76,458.05 L404.40,458.58 L406.03,459.10 L407.66,459.63 L409.30,460.15 L410.93,460.66 L412.56,461.18 L414.20,461.69 L415.83,462.19 L417.46,462.70 L419.10,463.19 L420.73,463.69 L422.36,464.18 L423.99,464.67 L425.63,465.16 L427.26,465.64 L428.89,466.13 L430.53,466.60 L432.16,467.08 L433.79,467.55 L435.43,468.01 L437.06,468.48 L438.69,468.94 L440.33,469.40 L441.96,469.85 L443.59,470.30 L445.23,470.75 L446.86,471.20 L448.49,471.64 L450.13,472.08 L451.76,472.51 L453.39,472.95 L455.02,473.38 L456.66,473.81 L458.29,474.23 L459.92,474.65 L461.56,475.07 L463.19,475.48 L464.82,475.90 L466.46,476.30 L468.09,476.71 L469.72,477.11 L471.36,477.51 L472.99,477.91 L474.62,478.31 L476.26,478.70 L477.89,479.09 L479.52,479.47 L481.15,479.86 L482.79,480.24 L484.42,480.62 L486.05,480.99 L487.69,481.36 L489.32,481.73 L490.95,482.10 L492.59,482.46 L494.22,482.83 L495.85,483.18 L497.49,483.54 L499.12,483.90 L500.75,484.25 L502.39,484.59 L504.02,484.94 L505.65,485.28 L507.29,485.63 L508.92,485.96 L510.55,486.30 L512.18,486.63 L513.82,486.96 L515.45,487.29 L517.08,487.62 L518.72,487.94 L520.35,488.26 L521.98,488.58 L523.62,488.90 L525.25,489.21 L526.88,489.53 L528.52,489.84 L530.15,490.14 L531.78,490.45 L533.42,490.75 L535.05,491.05 L536.68,491.35 L538.31,491.65 L539.95,491.94 L541.58,492.23 L543.21,492.52 L544.85,492.81 L546.48,493.09 L548.11,493.38 L549.75,493.66 L551.38,493.94 L553.01,494.21 L554.65,494.49 L556.28,494.76 L557.91,495.03 L559.55,495.30 L561.18,495.57 L562.81,495.83 L564.44,496.10 L566.08,496.36 L567.71,496.62 L569.34,496.87 L570.98,497.13 L572.61,497.38 L574.24,497.63 L575.88,497.88 L577.51,498.13 L579.14,498.38 L580.78,498.62 L582.41,498.86 L584.04,499.10 L585.68,499.34 L587.31,499.58 L588.94,499.82 L590.58,500.05 L592.21,500.28 L593.84,500.51 L595.47,500.74 L597.11,500.97 L598.74,501.19 L600.37,501.42 L602.01,501.64 L603.64,501.86 L605.27,502.08 L606.91,502.29 L608.54,502.51 L610.17,502.72 L611.81,502.94 L613.44,503.15 L615.07,503.36 L616.71,503.56 L618.34,503.77 L619.97,503.97 L621.60,504.18 L623.24,504.38 L624.87,504.58 L626.50,504.78 L628.14,504.98 L629.77,505.17 L631.40,505.37 L633.04,505.56 L634.67,505.75 L636.30,505.94 L637.94,506.13 L639.57,506.32 L641.20,506.51 L642.84,506.69 L644.47,506.88 L646.10,507.06 L647.73,507.24 L649.37,507.42 L651.00,507.60 L652.63,507.78 L654.27,507.95 L655.90,508.13 L657.53,508.30 L659.17,508.47 L660.80,508.64" fill="none" stroke="#ffa500" stroke-width="4.9" stroke-linejoin="round" clip-path="url(#cb)"/>
<path d="M128.10,463.23 L128.21,463.23 L128.32,463.23 L128.43,463.23 L128.55,463.23 L128.66,463.23 L128.77,463.23 L128.88,463.23 L128.99,463.23 L129.10,463.23 L129.21,463.24 L129.32,463.24 L129.44,463.24 L129.55,463.24 L129.66,463.24 L129.77,463.24 L129.88,463.24 L129.99,463.24 L130.10,463.24 L130.21,463.24 L130.33,463.24 L130.44,463.24 L130.55,463.24 L130.66,463.24 L130.77,463.25 L130.88,463.25 L130.99,463.25 L131.10,463.25 L131.22,463.25 L131.33,463.25 L131.44,463.25 L131.55,463.25 L131.66,463.25 L131.77,463.25 L131.88,463.25 L131.99,463.25 L132.11,463.26 L132.22,463.26 L132.33,463.26 L132.44,463.26 L132.55,463.26 L132.66,463.26 L132.77,463.26 L132.88,463.26 L133.00,463.26 L133.11,463.26 L133.22,463.27 L133.33,463.27 L133.44,463.27 L133.55,463.27 L133.66,463.27 L133.77,463.27 L133.89,463.27 L134.00,463.27 L134.11,463.27 L134.22,463.27 L134.33,463.28 L134.44,463.28 L134.55,463.28 L134.66,463.28 L134.78,463.28 L134.89,463.28 L135.00,463.28 L135.11,463.28 L135.22,463.28 L135.33,463.29 L135.44,463.29 L135.55,463.29 L135.67,463.29 L135.78,463.29 L135.89,463.29 L136.00,463.29 L136.11,463.29 L136.22,463.29 L136.33,463.30 L136.44,463.30 L136.56,463.30 L136.67,463.30 L136.78,463.30 L136.89,463.30 L137.00,463.30 L137.11,463.30 L137.22,463.31 L137.33,463.31 L137.45,463.31 L137.56,463.31 L137.67,463.31 L137.78,463.31 L137.89,463.31 L138.00,463.32 L138.11,463.32 L138.22,463.32 L138.34,463.32 L138.45,463.32 L138.56,463.32 L138.67,463.32 L138.78,463.33 L138.89,463.33 L139.00,463.33 L139.11,463.33 L139.23,463.33 L139.34,463.33 L139.45,463.33 L139.56,463.34 L139.67,463.34 L139.78,463.34 L139.89,463.34 L140.00,463.34 L140.12,463.34 L140.23,463.34 L140.34,463.35 L140.45,463.35 L140.56,463.35 L140.67,463.35 L140.78,463.35 L140.89,463.35 L141.01,463.36 L141.12,463.36 L141.23,463.36 L141.34,463.36 L141.45,463.36 L141.56,463.36 L141.67,463.36 L141.78,463.37 L141.90,463.37 L142.01,463.37 L142.12,463.37 L142.23,463.37 L142.34,463.37 L142.45,463.38 L142.56,463.38 L142.67,463.38 L142.79,463.38 L142.90,463.38 L143.01,463.39 L143.12,463.39 L143.23,463.39 L143.34,463.39 L143.45,463.39 L143.56,463.39 L143.68,463.40 L143.79,463.40 L143.90,463.40 L144.01,463.40 L144.12,463.40 L144.23,463.40 L144.34,463.41 L144.45,463.41 L144.57,463.41 L144.68,463.41 L144.79,463.41 L144.90,463.42 L145.01,463.42 L145.12,463.42 L145.23,463.42 L145.34,463.42 L145.46,463.43 L145.57,463.43 L145.68,463.43 L145.79,463.43 L145.90,463.43 L146.01,463.44 L146.12,463.44 L146.23,463.44 L146.35,463.44 L146.46,463.44 L146.57,463.45 L146.68,463.45 L146.79,463.45 L146.90,463.45 L147.01,463.45 L147.12,463.46 L147.24,463.46 L147.35,463.46 L147.46,463.46 L147.57,463.46 L147.68,463.47 L147.79,463.47 L147.90,463.47 L148.02,463.47 L148.13,463.47 L148.24,463.48 L148.35,463.48 L148.46,463.48 L148.57,463.48 L148.68,463.49 L148.79,463.49 L148.91,463.49 L149.02,463.49 L149.13,463.49 L149.24,463.50 L149.35,463.50 L149.46,463.50 L149.57,463.50 L149.68,463.51 L149.80,463.51 L149.91,463.51 L150.02,463.51 L150.13,463.51 L150.24,463.52 L150.35,463.52 L150.46,463.52 L150.57,463.52 L150.69,463.53 L150.80,463.53 L150.91,463.53 L151.02,463.53 L151.13,463.54 L151.24,463.54 L151.35,463.54 L151.46,463.54 L151.58,463.55 L151.69,463.55 L151.80,463.55 L151.91,463.55 L152.02,463.55 L152.13,463.56 L152.24,463.56 L152.35,463.56 L152.47,463.56 L152.58,463.57 L152.69,463.57 L152.80,463.57 L152.91,463.57 L153.02,463.58 L153.13,463.58 L153.24,463.58 L153.36,463.58 L153.47,463.59 L153.58,463.59 L153.69,463.59 L153.80,463.60 L153.91,463.60 L154.02,463.60 L154.13,463.60 L154.25,463.61 L154.36,463.61 L154.47,463.61 L154.58,463.61 L154.69,463.62 L154.80,463.62 L154.91,463.62 L155.02,463.62 L155.14,463.63 L155.25,463.63 L155.36,463.63 L155.47,463.63 L155.58,463.64 L155.69,463.64 L155.80,463.64 L155.91,463.65 L156.03,463.65 L156.14,463.65 L156.25,463.65 L156.36,463.66 L156.47,463.66 L156.58,463.66 L156.69,463.67 L156.80,463.67 L156.92,463.67 L157.03,463.67 L157.14,463.68 L157.25,463.68 L157.36,463.68 L157.47,463.68 L157.58,463.69 L157.69,463.69 L157.81,463.69 L157.92,463.70 L158.03,463.70 L158.14,463.70 L158.25,463.71 L158.36,463.71 L158.47,463.71 L158.58,463.71 L158.70,463.72 L158.81,463.72 L158.92,463.72 L159.03,463.73 L159.14,463.73 L159.25,463.73 L159.36,463.73 L159.47,463.74 L159.59,463.74 L159.70,463.74 L159.81,463.75 L159.92,463.75 L160.03,463.75 L160.14,463.76 L160.25,463.76 L160.36,463.76 L160.48,463.77 L160.59,463.77 L160.70,463.77 L160.81,463.77 L160.92,463.78 L161.03,463.78 L161.14,463.78 L161.25,463.79 L161.37,463.79 L161.48,463.79 L161.59,463.80 L161.70,463.80 L161.81,463.80 L161.92,463.81 L162.03,463.81 L162.14,463.81 L162.26,463.82 L162.37,463.82 L162.48,463.82 L162.59,463.83 L162.70,463.83 L162.81,463.83 L162.92,463.84 L163.03,463.84 L163.15,463.84 L163.26,463.85 L163.37,463.85 L163.48,463.85 L163.59,463.86 L163.70,463.86 L163.81,463.86 L163.92,463.87 L164.04,463.87 L164.15,463.87 L164.26,463.88 L164.37,463.88 L164.48,463.88 L164.59,463.89 L164.70,463.89 L164.81,463.89 L164.93,463.90 L165.04,463.90 L165.15,463.90 L165.26,463.91 L165.37,463.91 L165.48,463.91 L165.59,463.92 L165.70,463.92 L165.82,463.92 L165.93,463.93 L166.04,463.93 L166.15,463.93 L166.26,463.94 L166.37,463.94 L166.48,463.94 L166.60,463.95 L166.71,463.95 L166.82,463.96 L166.93,463.96 L167.04,463.96 L167.15,463.97 L167.26,463.97 L167.37,463.97 L167.49,463.98 L167.60,463.98 L167.71,463.98 L167.82,463.99 L167.93,463.99 L168.04,464.00 L168.15,464.00 L168.26,464.00 L168.38,464.01 L168.49,464.01 L168.60,464.01 L168.71,464.02 L168.82,464.02 L168.93,464.02 L169.04,464.03 L169.15,464.03 L169.27,464.04 L169.38,464.04 L169.49,464.04 L169.60,464.05 L169.71,464.05 L169.82,464.05 L169.93,464.06 L170.04,464.06 L170.16,464.07 L170.27,464.07 L170.38,464.07 L170.49,464.08 L170.60,464.08 L170.71,464.09 L170.82,464.09 L170.93,464.09 L171.05,464.10 L171.16,464.10 L171.27,464.11 L171.38,464.11 L171.49,464.11 L171.60,464.12 L171.71,464.12 L171.82,464.12 L171.94,464.13 L172.05,464.13 L172.16,464.14 L172.27,464.14 L172.38,464.14 L172.49,464.15 L174.12,464.21 L175.76,464.27 L177.39,464.33 L179.02,464.40 L180.66,464.46 L182.29,464.53 L183.92,464.60 L185.56,464.68 L187.19,464.75 L188.82,464.83 L190.46,464.90 L192.09,464.98 L193.72,465.06 L195.36,465.15 L196.99,465.23 L198.62,465.32 L200.26,465.40 L201.89,465.49 L203.52,465.58 L205.15,465.68 L206.79,465.77 L208.42,465.87 L210.05,465.96 L211.69,466.06 L213.32,466.16 L214.95,466.27 L216.59,466.37 L218.22,466.48 L219.85,466.58 L221.49,466.69 L223.12,466.80 L224.75,466.91 L226.39,467.03 L228.02,467.14 L229.65,467.26 L231.28,467.38 L232.92,467.49 L234.55,467.62 L236.18,467.74 L237.82,467.86 L239.45,467.99 L241.08,468.11 L242.72,468.24 L244.35,468.37 L245.98,468.50 L247.62,468.63 L249.25,468.76 L250.88,468.90 L252.52,469.03 L254.15,469.17 L255.78,469.31 L257.41,469.45 L259.05,469.59 L260.68,469.73 L262.31,469.88 L263.95,470.02 L265.58,470.17 L267.21,470.31 L268.85,470.46 L270.48,470.61 L272.11,470.76 L273.75,470.91 L275.38,471.07 L277.01,471.22 L278.65,471.37 L280.28,471.53 L281.91,471.69 L283.55,471.84 L285.18,472.00 L286.81,472.16 L288.44,472.32 L290.08,472.49 L291.71,472.65 L293.34,472.81 L294.98,472.98 L296.61,473.14 L298.24,473.31 L299.88,473.48 L301.51,473.64 L303.14,473.81 L304.78,473.98 L306.41,474.15 L308.04,474.33 L309.68,474.50 L311.31,474.67 L312.94,474.84 L314.57,475.02 L316.21,475.19 L317.84,475.37 L319.47,475.55 L321.11,475.72 L322.74,475.90 L324.37,476.08 L326.01,476.26 L327.64,476.44 L329.27,476.62 L330.91,476.80 L332.54,476.98 L334.17,477.16 L335.81,477.34 L337.44,477.53 L339.07,477.71 L340.70,477.89 L342.34,478.08 L343.97,478.26 L345.60,478.45 L347.24,478.64 L348.87,478.82 L350.50,479.01 L352.14,479.19 L353.77,479.38 L355.40,479.57 L357.04,479.76 L358.67,479.95 L360.30,480.13 L361.94,480.32 L363.57,480.51 L365.20,480.70 L366.84,480.89 L368.47,481.08 L370.10,481.27 L371.73,481.46 L373.37,481.65 L375.00,481.84 L376.63,482.03 L378.27,482.23 L379.90,482.42 L381.53,482.61 L383.17,482.80 L384.80,482.99 L386.43,483.18 L388.07,483.38 L389.70,483.57 L391.33,483.76 L392.97,483.95 L394.60,484.14 L396.23,484.34 L397.86,484.53 L399.50,484.72 L401.13,484.91 L402.76,485.10 L404.40,485.30 L406.03,485.49 L407.66,485.68 L409.30,485.87 L410.93,486.07 L412.56,486.26 L414.20,486.45 L415.83,486.64 L417.46,486.83 L419.10,487.02 L420.73,487.21 L422.36,487.41 L423.99,487.60 L425.63,487.79 L427.26,487.98 L428.89,488.17 L430.53,488.36 L432.16,488.55 L433.79,488.74 L435.43,488.93 L437.06,489.12 L438.69,489.31 L440.33,489.50 L441.96,489.69 L443.59,489.88 L445.23,490.06 L446.86,490.25 L448.49,490.44 L450.13,490.63 L451.76,490.81 L453.39,491.00 L455.02,491.19 L456.66,491.37 L458.29,491.56 L459.92,491.75 L461.56,491.93 L463.19,492.12 L464.82,492.30 L466.46,492.49 L468.09,492.67 L469.72,492.85 L471.36,493.04 L472.99,493.22 L474.62,493.40 L476.26,493.58 L477.89,493.77 L479.52,493.95 L481.15,494.13 L482.79,494.31 L484.42,494.49 L486.05,494.67 L487.69,494.85 L489.32,495.03 L490.95,495.20 L492.59,495.38 L494.22,495.56 L495.85,495.74 L497.49,495.91 L499.12,496.09 L500.75,496.26 L502.39,496.44 L504.02,496.61 L505.65,496.79 L507.29,496.96 L508.92,497.14 L510.55,497.31 L512.18,497.48 L513.82,497.65 L515.45,497.82 L517.08,498.00 L518.72,498.17 L520.35,498.34 L521.98,498.51 L523.62,498.67 L525.25,498.84 L526.88,499.01 L528.52,499.18 L530.15,499.34 L531.78,499.51 L533.42,499.68 L535.05,499.84 L536.68,500.01 L538.31,500.17 L539.95,500.33 L541.58,500.50 L543.21,500.66 L544.85,500.82 L546.48,500.98 L548.11,501.15 L549.75,501.31 L551.38,501.47 L553.01,501.63 L554.65,501.78 L556.28,501.94 L557.91,502.10 L559.55,502.26 L561.18,502.41 L562.81,502.57 L564.44,502.73 L566.08,502.88 L567.71,503.03 L569.34,503.19 L570.98,503.34 L572.61,503.50 L574.24,503.65 L575.88,503.80 L577.51,503.95 L579.14,504.10 L580.78,504.25 L582.41,504.40 L584.04,504.55 L585.68,504.70 L587.31,504.85 L588.94,504.99 L590.58,505.14 L592.21,505.29 L593.84,505.43 L595.47,505.58 L597.11,505.72 L598.74,505.86 L600.37,506.01 L602.01,506.15 L603.64,506.29 L605.27,506.43 L606.91,506.58 L608.54,506.72 L610.17,506.86 L611.81,507.00 L613.44,507.13 L615.07,507.27 L616.71,507.41 L618.34,507.55 L619.97,507.68 L621.60,507.82 L623.24,507.96 L624.87,508.09 L626.50,508.23 L628.14,508.36 L629.77,508.49 L631.40,508.63 L633.04,508.76 L634.67,508.89 L636.30,509.02 L637.94,509.15 L639.57,509.28 L641.20,509.41 L642.84,509.54 L644.47,509.67 L646.10,509.80 L647.73,509.93 L649.37,510.05 L651.00,510.18 L652.63,510.31 L654.27,510.43 L655.90,510.56 L657.53,510.68 L659.17,510.81 L660.80,510.93" fill="none" stroke="#0000ff" stroke-width="4.9" stroke-linejoin="round" clip-path="url(#cb)" stroke-dasharray="22.4 14.1"/>
<rect x="128.1" y="13.05" width="532.6999999999999" height="266.2" fill="none" stroke="#000" stroke-width="1.5"/>
<rect x="128.1" y="279.25" width="532.6999999999999" height="266.25" fill="none" stroke="#000" stroke-width="1.5"/>
<g font-family="'Liberation Sans', sans-serif" fill="#000">
<text transform="translate(117.60,290.35) scale(0.84,1)" x="3.31" text-anchor="end" font-size="33" letter-spacing="2.02">0</text>
<text transform="translate(117.60,157.25) scale(0.84,1)" x="3.67" text-anchor="end" font-size="33" letter-spacing="2.02">0.2</text>
<text transform="translate(117.60,24.15) scale(0.84,1)" x="2.98" text-anchor="end" font-size="33" letter-spacing="2.02">0.4</text>
<text transform="translate(117.60,556.60) scale(0.84,1)" x="3.31" text-anchor="end" font-size="33" letter-spacing="2.02">0</text>
<text transform="translate(117.60,379.10) scale(0.84,1)" x="3.67" text-anchor="end" font-size="33" letter-spacing="2.02">2</text>
<path d="M116.70,445.35 L119.20,445.35 L119.20,467.95 L116.70,467.95 Z M116.90,447.35 Q116.20,449.65 112.20,450.05 L112.20,451.95 L116.90,451.65 Z"/>
<text transform="translate(128.00,575.80) scale(0.84,1)" x="1.01" text-anchor="middle" font-size="33" letter-spacing="2.02">0</text>
<text transform="translate(198.60,575.80) scale(0.84,1)" x="-1.29" font-size="33" letter-spacing="3.27">0.</text>
<path d="M232.50,553.20 L235.00,553.20 L235.00,575.80 L232.50,575.80 Z M232.70,555.20 Q232.00,557.50 228.00,557.90 L228.00,559.80 L232.70,559.50 Z"/>
<text transform="translate(305.57,575.80) scale(0.84,1)" x="1.19" text-anchor="middle" font-size="33" letter-spacing="2.02">0.2</text>
<text transform="translate(394.35,575.80) scale(0.84,1)" x="1.09" text-anchor="middle" font-size="33" letter-spacing="2.02">0.3</text>
<text transform="translate(483.13,575.80) scale(0.84,1)" x="0.85" text-anchor="middle" font-size="33" letter-spacing="2.02">0.4</text>
<text transform="translate(571.92,575.80) scale(0.84,1)" x="1.06" text-anchor="middle" font-size="33" letter-spacing="2.02">0.5</text>
<text transform="translate(365.8,609.7) scale(1.1542,1.0090)" x="-1.40" font-size="36" font-family="'Liberation Serif', serif">ω</text>
<polygon points="390.3,612.9 392.9,612.9 402.3,584.3 399.7,584.3" fill="#000"/>
<text transform="translate(402.00,609.70) scale(0.84,1)" x="-0.57" font-size="38" letter-spacing="0.00">t</text>
<text transform="translate(412.00,623.90) scale(0.82,1)" x="-0.99" font-size="25.5" letter-spacing="0.00">0</text>
<text transform="translate(477.80,59.10) scale(0.84,1)" x="-0.73" font-size="33" letter-spacing="2.02">T</text>
<rect x="507.00" y="47.50" width="12.9" height="2.2"/><rect x="507.00" y="53.00" width="12.9" height="2.2"/>
<text transform="translate(534.70,59.10) scale(0.84,1)" x="-1.29" font-size="33" letter-spacing="2.02">0.25</text>
<text transform="translate(605.00,59.10) scale(0.84,1)" x="-0.73" font-size="33" letter-spacing="2.02">T</text>
<text transform="translate(624.20,72.10) scale(0.86,1)" x="-1.02" font-size="24.3" letter-spacing="1.98">c</text>
<text transform="translate(477.80,102.50) scale(0.84,1)" x="-0.73" font-size="33" letter-spacing="2.02">T</text>
<rect x="507.00" y="90.90" width="12.9" height="2.2"/><rect x="507.00" y="96.40" width="12.9" height="2.2"/>
<text transform="translate(534.00,102.50) scale(0.84,1)" x="-0.73" font-size="33" letter-spacing="2.02">T</text>
<text transform="translate(552.80,115.50) scale(0.86,1)" x="-1.02" font-size="24.3" letter-spacing="1.98">c</text>
<text transform="translate(477.80,146.50) scale(0.84,1)" x="-0.73" font-size="33" letter-spacing="2.02">T</text>
<rect x="507.00" y="134.90" width="12.9" height="2.2"/><rect x="507.00" y="140.40" width="12.9" height="2.2"/>
<text transform="translate(534.60,146.50) scale(0.84,1)" x="-1.65" font-size="33" letter-spacing="2.02">2</text>
<text transform="translate(561.00,146.50) scale(0.84,1)" x="-0.73" font-size="33" letter-spacing="2.02">T</text>
<text transform="translate(580.00,159.50) scale(0.86,1)" x="-1.02" font-size="24.3" letter-spacing="1.98">c</text>
<text transform="translate(477.80,189.80) scale(0.84,1)" x="-0.73" font-size="33" letter-spacing="2.02">T</text>
<rect x="507.00" y="178.20" width="12.9" height="2.2"/><rect x="507.00" y="183.70" width="12.9" height="2.2"/>
<text transform="translate(534.30,189.80) scale(0.84,1)" x="-0.76" font-size="33" letter-spacing="2.02">4</text>
<text transform="translate(561.00,189.80) scale(0.84,1)" x="-0.73" font-size="33" letter-spacing="2.02">T</text>
<text transform="translate(580.00,202.80) scale(0.86,1)" x="-1.02" font-size="24.3" letter-spacing="1.98">c</text>
</g>
<line x1="432" y1="53.8" x2="462.6" y2="53.8" stroke="#000" stroke-width="4.5"/>
<line x1="432" y1="97.4" x2="462.6" y2="97.4" stroke="#008000" stroke-width="4.9"/>
<rect x="425.5" y="90.85000000000001" width="13.1" height="13.1" fill="none" stroke="#008000" stroke-width="1.3"/>
<rect x="456.05" y="90.85000000000001" width="13.1" height="13.1" fill="none" stroke="#008000" stroke-width="1.3"/>
<line x1="432" y1="141.1" x2="462.6" y2="141.1" stroke="#ffa500" stroke-width="4.9"/>
<line x1="432" y1="184.6" x2="455.1" y2="184.6" stroke="#0000ff" stroke-width="4.9"/>
<g transform="rotate(-90)" font-family="'Liberation Serif', serif" fill="#000">
<text transform="translate(-106.82,51.42) scale(0.4722,0.3825)" font-size="100" font-style="italic">a</text>
<text transform="translate(-83.30,51.40) scale(0.4065,0.3977)" font-size="100" font-style="italic">b</text>
<text transform="translate(-358.34,59.16) scale(0.4975,0.4407)" font-size="100" font-style="italic">c</text>
</g>
<g><g transform="translate(0,192) scale(0.07962)" fill="#000" fill-rule="evenodd"><path d="M55,435 L540,435 L540,490 L55,490 Z"/><path d="M50,300 L50,565 L72,565 C73,520 80,498 100,490 L100,435 L50,435 Z"/><path d="M540,355 L540,565 L516,565 C515,520 508,498 488,490 L488,435 C508,428 515,405 516,355 Z"/><path d="M50,440 C50,330 60,230 120,175 C150,150 200,145 235,185 C265,220 285,260 295,285 L300,440 Z M78,437 C74,340 82,262 135,237 C172,222 212,240 245,285 C272,325 284,372 285,437 Z"/><path d="M293,290 C303,240 330,205 380,185 C430,168 480,165 510,135 C536,112 528,80 468,68 C510,70 547,90 550,130 C553,180 520,235 455,248 C400,258 350,240 320,275 C305,295 300,330 300,440 L288,440 Z"/></g></g>
<g transform="translate(4.0,462.2) scale(1.1602,1.1465) translate(-3.98,-197.4)"><g transform="translate(0,192) scale(0.07962)" fill="#000" fill-rule="evenodd"><path d="M55,435 L540,435 L540,490 L55,490 Z"/><path d="M50,300 L50,565 L72,565 C73,520 80,498 100,490 L100,435 L50,435 Z"/><path d="M540,355 L540,565 L516,565 C515,520 508,498 488,490 L488,435 C508,428 515,405 516,355 Z"/><path d="M50,440 C50,330 60,230 120,175 C150,150 200,145 235,185 C265,220 285,260 295,285 L300,440 Z M78,437 C74,340 82,262 135,237 C172,222 212,240 245,285 C272,325 284,372 285,437 Z"/><path d="M293,290 C303,240 330,205 380,185 C430,168 480,165 510,135 C536,112 528,80 468,68 C510,70 547,90 550,130 C553,180 520,235 455,248 C400,258 350,240 320,275 C305,295 300,330 300,440 L288,440 Z"/></g></g>
<g><g transform="translate(12,428) scale(0.06930)"><ellipse cx="328" cy="280" rx="220" ry="185" fill="#000"/><path d="M135,275 C135,215 205,165 305,160 L420,128 C480,150 522,215 522,280 C522,340 440,385 330,385 C230,385 135,345 135,275 Z" fill="#fff"/><path d="M318,70 L400,70 L408,100 L425,135 L318,170 Z" fill="#fff"/><rect x="293" y="98" width="25" height="300" fill="#000"/></g></g>
<g transform="translate(16.9,172.9) scale(0.8885,0.8984) translate(-19.5,-434.6)"><g transform="translate(12,428) scale(0.06930)"><ellipse cx="328" cy="280" rx="220" ry="185" fill="#000"/><path d="M135,275 C135,215 205,165 305,160 L420,128 C480,150 522,215 522,280 C522,340 440,385 330,385 C230,385 135,345 135,275 Z" fill="#fff"/><path d="M318,70 L400,70 L408,100 L425,135 L318,170 Z" fill="#fff"/><rect x="293" y="98" width="25" height="300" fill="#000"/></g></g>
<g><ellipse cx="31.07" cy="126.71" rx="13.21" ry="11.35" transform="rotate(25 31.07 126.71)" fill="#000"/><ellipse cx="32.03" cy="127.28" rx="10.74" ry="7.74" transform="rotate(25 32.03 127.28)" fill="#fff"/><rect x="17.99" y="107.89" width="3.72" height="20.06" rx="1.7" ry="1.7" fill="#000"/></g>
<g transform="translate(20.3,359.7) scale(1.105,1.09) translate(-17.2,-107.6)"><ellipse cx="31.07" cy="126.71" rx="13.21" ry="11.35" transform="rotate(25 31.07 126.71)" fill="#000"/><ellipse cx="32.03" cy="127.28" rx="10.74" ry="7.74" transform="rotate(25 32.03 127.28)" fill="#fff"/><rect x="17.99" y="107.89" width="3.72" height="20.06" rx="1.7" ry="1.7" fill="#000"/></g>
<path d="M-0.70,143.30 A37.43,37.43 0 0 0 56.70,143.30 A46.55,46.55 0 0 1 -0.70,143.30 Z" fill="#000" stroke="#000" stroke-width="0.5" stroke-linejoin="round"/>
<path d="M-0.70,56.70 A38.18,38.18 0 0 1 56.70,56.70 A47.70,47.70 0 0 0 -0.70,56.70 Z" fill="#000" stroke="#000" stroke-width="0.5" stroke-linejoin="round"/>
<path d="M-1.70,400.50 A44.69,44.69 0 0 0 65.10,400.50 A55.80,55.80 0 0 1 -1.70,400.50 Z" fill="#000" stroke="#000" stroke-width="0.5" stroke-linejoin="round"/>
<path d="M-1.70,329.10 A44.08,44.08 0 0 1 64.90,329.10 A55.10,55.10 0 0 0 -1.70,329.10 Z" fill="#000" stroke="#000" stroke-width="0.5" stroke-linejoin="round"/>
</svg>
</body></html>
